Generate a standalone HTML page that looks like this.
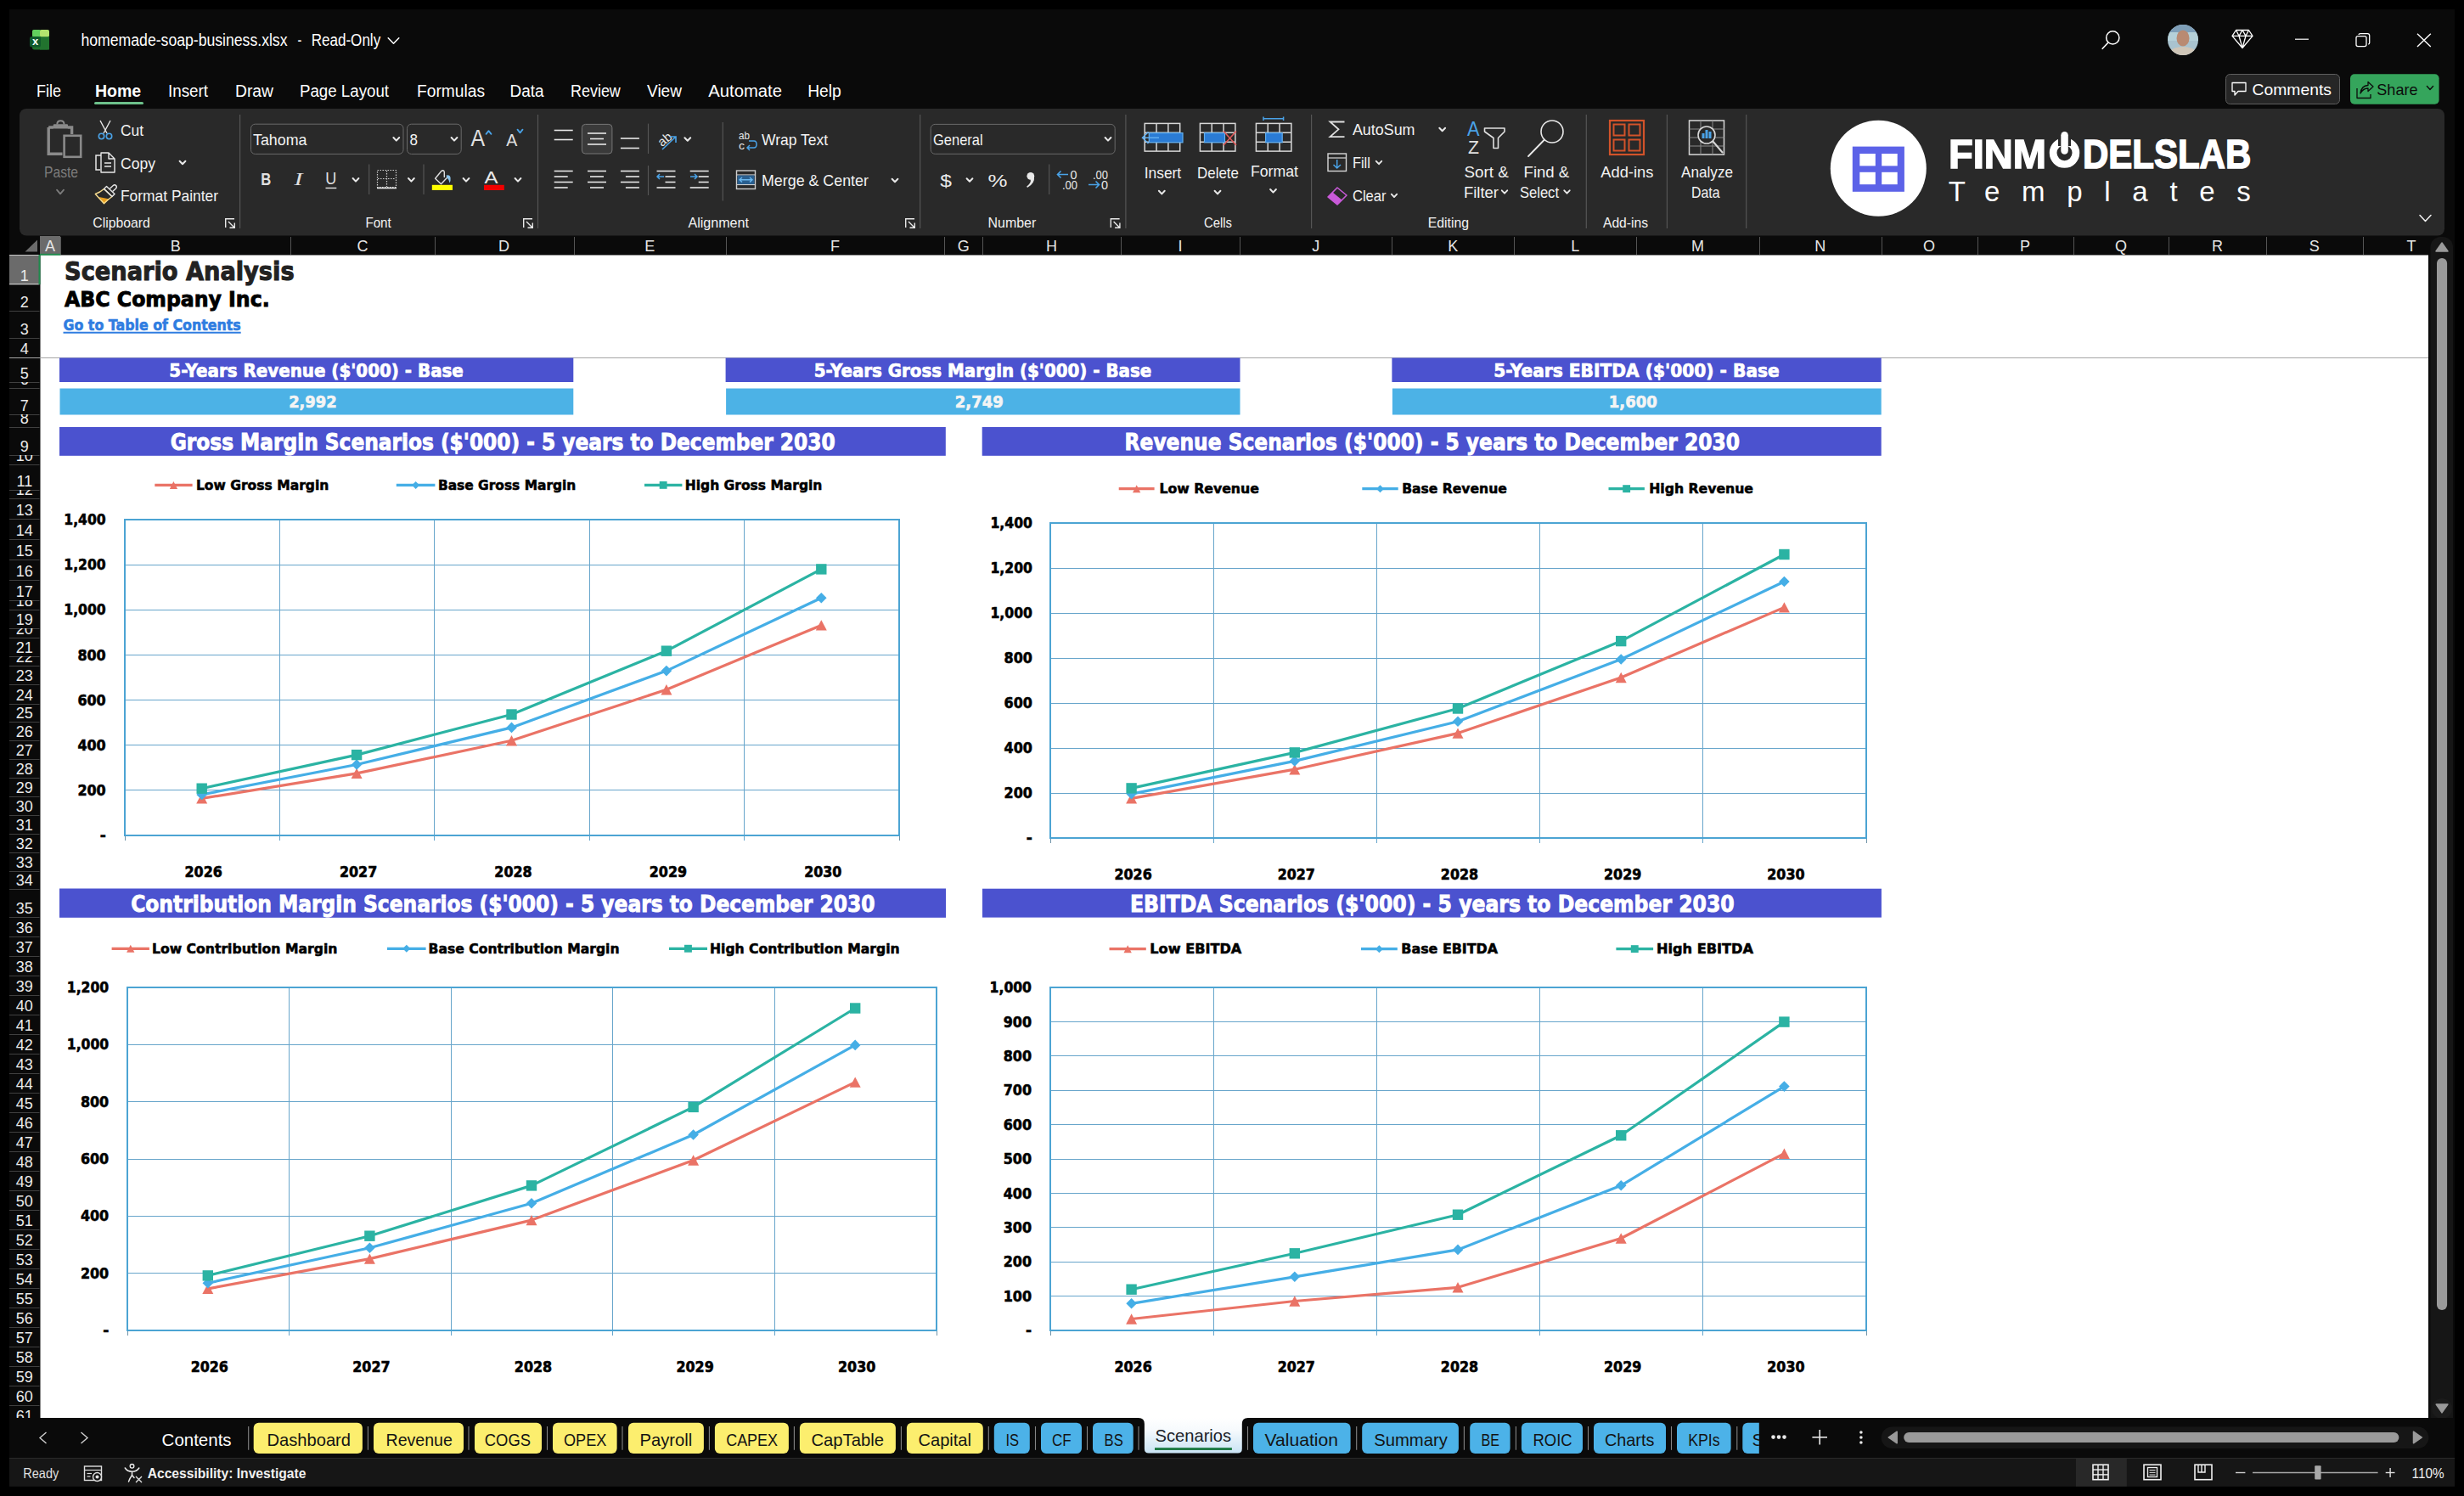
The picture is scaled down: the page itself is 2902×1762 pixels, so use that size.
<!DOCTYPE html>
<html><head><meta charset="utf-8"><title>homemade-soap-business.xlsx - Excel</title>
<style>
html,body{margin:0;padding:0;background:#000;overflow:hidden;width:2902px;height:1762px}
svg{display:block}
text{white-space:pre}
</style></head><body>
<svg width="2902" height="1762" viewBox="0 0 2902 1762" font-family="'Liberation Sans', Arial, sans-serif">
<rect x="0" y="0" width="2902" height="1762" fill="#000"/>
<rect x="11" y="11" width="2880" height="1740" fill="#0a0a0a"/>
<rect x="38" y="35" width="20" height="23.5" fill="#1f6f2c" rx="2.5"/>
<rect x="38" y="35" width="10" height="8.5" fill="#62cf5e" rx="2"/>
<rect x="47" y="35" width="11" height="8.5" fill="#b4e46e" rx="2"/>
<rect x="47" y="43.5" width="11" height="15" fill="#21732e"/>
<rect x="35" y="43" width="13" height="12.5" fill="#0f5a2c" rx="2.5"/>
<text x="41.6" y="52.6" font-size="13" fill="#f4fff6" font-weight="bold" text-anchor="middle">x</text>
<text x="95.5" y="54.0" font-size="20" fill="#fff" textLength="243.0" lengthAdjust="spacingAndGlyphs">homemade-soap-business.xlsx</text>
<text x="350.4" y="54.0" font-size="20" fill="#fff" textLength="4.8" lengthAdjust="spacingAndGlyphs">-</text>
<text x="366.7" y="54.0" font-size="20" fill="#fff" textLength="81.5" lengthAdjust="spacingAndGlyphs">Read-Only</text>
<path d="M457.2 44.7 L463.5 51.3 L469.8 44.7" fill="none" stroke="#fff" stroke-width="1.5" stroke-linecap="round" stroke-linejoin="round"/>
<circle cx="2488.3" cy="44.4" r="7.6" fill="none" stroke="#fff" stroke-width="1.5"/>
<line x1="2482.8" y1="50.2" x2="2476.2" y2="57.3" stroke="#fff" stroke-width="1.6" stroke-linecap="round"/>
<defs><radialGradient id="av" cx="50%" cy="45%" r="60%"><stop offset="0" stop-color="#c99a7c"/><stop offset="0.45" stop-color="#b48a72"/><stop offset="0.7" stop-color="#8fb4c6"/><stop offset="1" stop-color="#a9c8d8"/></radialGradient></defs>
<clipPath id="avc"><circle cx="2571" cy="47" r="18"/></clipPath>
<g clip-path="url(#avc)">
<rect x="2553" y="29" width="36" height="36" fill="#a9c3cf"/>
<rect x="2553" y="29" width="36" height="9" fill="#7f9fb8"/>
<rect x="2553" y="38" width="36" height="10" fill="#b5d0d8"/>
<ellipse cx="2571" cy="45" rx="7.5" ry="9.5" fill="#b98a72"/>
<path d="M2553 62 Q2560 55 2571 55 Q2582 55 2589 62 L2589 66 L2553 66 Z" fill="#cfc6b8"/>
</g>
<path d="M2633.5 35.5 L2648.5 35.5 L2653 42.3 L2641 56.5 L2629 42.3 Z M2629 42.3 L2653 42.3 M2637 42.3 L2641 56.5 L2645 42.3 M2633.5 35.5 L2637 42.3 L2641 35.5 L2645 42.3 L2648.5 35.5" fill="none" stroke="#fff" stroke-width="1.3" stroke-linejoin="round"/>
<line x1="2703" y1="46.2" x2="2719" y2="46.2" stroke="#fff" stroke-width="1.2" />
<rect x="2775" y="42.6" width="12" height="12" rx="2" fill="none" stroke="#fff" stroke-width="1.3"/>
<path d="M2778 41 Q2778 39.7 2780 39.7 L2788.5 39.7 Q2790.7 39.7 2790.7 42 L2790.7 50.5 Q2790.7 52 2789.2 52" fill="none" stroke="#fff" stroke-width="1.3"/>
<line x1="2847" y1="39.7" x2="2862.8" y2="55" stroke="#fff" stroke-width="1.4" />
<line x1="2862.8" y1="39.7" x2="2847" y2="55" stroke="#fff" stroke-width="1.4" />
<rect x="2621.5" y="87.5" width="134" height="35" rx="5" fill="#262626" stroke="#5e5e5e" stroke-width="1"/>
<path d="M2629 97.5 L2645 97.5 L2645 107.5 L2636 107.5 L2632 112 L2632 107.5 L2629 107.5 Z" fill="none" stroke="#fff" stroke-width="1.3" stroke-linejoin="round"/>
<text x="2652.6" y="112.2" font-size="19" fill="#fff" textLength="93.3" lengthAdjust="spacingAndGlyphs">Comments</text>
<rect x="2768" y="87.2" width="104.6" height="35.6" fill="#35a55c" rx="5"/>
<path d="M2776 104 L2776 115.5 L2792 115.5 L2792 111 M2780 110 Q2781 101 2789 100.5 L2789 96.5 L2795 102 L2789 107.5 L2789 104 Q2783 104 2780 110 Z" fill="none" stroke="#0c0c0c" stroke-width="1.3" stroke-linejoin="round"/>
<text x="2799.3" y="112.2" font-size="19" fill="#0c0c0c" textLength="48.2" lengthAdjust="spacingAndGlyphs">Share</text>
<path d="M2858.4 101.5 L2862.0 105.5 L2865.6 101.5" fill="none" stroke="#0c0c0c" stroke-width="1.4" stroke-linecap="round" stroke-linejoin="round"/>
<text x="43.0" y="114.0" font-size="19.5" fill="#fff" textLength="29.0" lengthAdjust="spacingAndGlyphs">File</text>
<text x="112.0" y="114.0" font-size="19.5" fill="#fff" font-weight="bold" textLength="54.2" lengthAdjust="spacingAndGlyphs">Home</text>
<text x="198.0" y="114.0" font-size="19.5" fill="#fff" textLength="47.0" lengthAdjust="spacingAndGlyphs">Insert</text>
<text x="277.0" y="114.0" font-size="19.5" fill="#fff" textLength="45.0" lengthAdjust="spacingAndGlyphs">Draw</text>
<text x="353.0" y="114.0" font-size="19.5" fill="#fff" textLength="105.0" lengthAdjust="spacingAndGlyphs">Page Layout</text>
<text x="491.0" y="114.0" font-size="19.5" fill="#fff" textLength="80.0" lengthAdjust="spacingAndGlyphs">Formulas</text>
<text x="600.5" y="114.0" font-size="19.5" fill="#fff" textLength="40.0" lengthAdjust="spacingAndGlyphs">Data</text>
<text x="672.0" y="114.0" font-size="19.5" fill="#fff" textLength="58.8" lengthAdjust="spacingAndGlyphs">Review</text>
<text x="762.0" y="114.0" font-size="19.5" fill="#fff" textLength="41.0" lengthAdjust="spacingAndGlyphs">View</text>
<text x="834.3" y="114.0" font-size="19.5" fill="#fff" textLength="86.6" lengthAdjust="spacingAndGlyphs">Automate</text>
<text x="951.2" y="114.0" font-size="19.5" fill="#fff" textLength="39.6" lengthAdjust="spacingAndGlyphs">Help</text>
<rect x="111" y="120" width="58" height="3" fill="#6cc08a" rx="1.5"/>
<rect x="23" y="128" width="2856" height="149.5" fill="#292929" rx="8"/>
<path d="M57.2 150 L57.2 181.2 L73.5 181.2 M57.2 150 L63 150 M79.5 150 L84.6 150 L84.6 158" fill="none" stroke="#8a8a8a" stroke-width="3.4"/>
<rect x="62.8" y="146.3" width="17.2" height="5.2" fill="#8a8a8a" rx="1"/>
<path d="M67.3 146.5 Q67.3 142.2 71.4 142.2 Q75.5 142.2 75.5 146.5" fill="none" stroke="#8a8a8a" stroke-width="2"/>
<rect x="75.6" y="159.8" width="19.6" height="25" fill="none" stroke="#8a8a8a" stroke-width="2.6"/>
<text x="52.0" y="209.3" font-size="19" fill="#7c7c7c" textLength="40.0" lengthAdjust="spacingAndGlyphs">Paste</text>
<path d="M67.0 223.6 L71.0 228.4 L75.0 223.6" fill="none" stroke="#7c7c7c" stroke-width="1.8" stroke-linecap="round" stroke-linejoin="round"/>
<path d="M118 142 L126 157 M130 142 L122 157" fill="none" stroke="#e8e8e8" stroke-width="1.4"/>
<circle cx="119.5" cy="160.5" r="3.2" fill="none" stroke="#4aa3e8" stroke-width="1.6"/>
<circle cx="128.5" cy="160.5" r="3.2" fill="none" stroke="#4aa3e8" stroke-width="1.6"/>
<text x="142.0" y="159.5" font-size="19" fill="#f2f2f2" textLength="27.0" lengthAdjust="spacingAndGlyphs">Cut</text>
<path d="M119 183 L113 183 L113 200 L118 200" fill="none" stroke="#e8e8e8" stroke-width="1.5"/>
<path d="M119 180 L128 180 L135 187 L135 203 L119 203 Z M128 180 L128 187 L135 187 M123 192 L131 192 M123 196 L131 196" fill="none" stroke="#e8e8e8" stroke-width="1.4" stroke-linejoin="round"/>
<text x="142.0" y="198.7" font-size="19" fill="#f2f2f2" textLength="41.0" lengthAdjust="spacingAndGlyphs">Copy</text>
<path d="M211.6 189.7 L215.0 193.3 L218.4 189.7" fill="none" stroke="#e8e8e8" stroke-width="2" stroke-linecap="round" stroke-linejoin="round"/>
<path d="M116.5 232 L129 234.5 Q126 237.5 122.5 239.8 Z" fill="#e9a020"/>
<path d="M112.3 228.5 Q118 226.5 122.5 222.5 L132 231.5 Q127 235 122.5 239.8 Z" fill="none" stroke="#f7dc8e" stroke-width="1.4" stroke-linejoin="round"/>
<path d="M122.5 222.5 L125.5 219.5 L135 228.5 L132 231.5 Z" fill="none" stroke="#e8e8e8" stroke-width="1.4" stroke-linejoin="round"/>
<path d="M129.3 222.2 L133.3 218.5 Q135 216.9 136.6 218.5 Q138.1 220.2 136.5 221.9 L132.6 225.6" fill="none" stroke="#e8e8e8" stroke-width="1.4" stroke-linejoin="round"/>
<text x="142.0" y="237.1" font-size="19" fill="#f2f2f2" textLength="115.0" lengthAdjust="spacingAndGlyphs">Format Painter</text>
<text x="109.3" y="267.6" font-size="15.7" fill="#f2f2f2" textLength="67.4" lengthAdjust="spacingAndGlyphs">Clipboard</text>
<path d="M265.7 268 L265.7 257.7 L276 257.7" fill="none" stroke="#e8e8e8" stroke-width="1.4"/>
<path d="M269 261 L276 268 M270.5 268.3 L276.3 268.3 L276.3 262.5" fill="none" stroke="#e8e8e8" stroke-width="1.4"/>
<line x1="282.6" y1="135" x2="282.6" y2="269" stroke="#555555" stroke-width="1.2" />
<rect x="295.5" y="146.2" width="179.5" height="35.2" rx="5" fill="#292929" stroke="#6a6a6a" stroke-width="1"/>
<text x="298.0" y="170.9" font-size="19" fill="#f2f2f2" textLength="63.4" lengthAdjust="spacingAndGlyphs">Tahoma</text>
<path d="M463.4 162.0 L466.8 165.6 L470.2 162.0" fill="none" stroke="#e8e8e8" stroke-width="2" stroke-linecap="round" stroke-linejoin="round"/>
<rect x="479.5" y="146.2" width="63.7" height="35.2" rx="5" fill="#292929" stroke="#6a6a6a" stroke-width="1"/>
<text x="482.5" y="170.9" font-size="19" fill="#f2f2f2" textLength="9.5" lengthAdjust="spacingAndGlyphs">8</text>
<path d="M531.6 162.0 L535.0 165.6 L538.4 162.0" fill="none" stroke="#e8e8e8" stroke-width="2" stroke-linecap="round" stroke-linejoin="round"/>
<text x="554.4" y="171.8" font-size="27" fill="#e0e0e0" textLength="16.6" lengthAdjust="spacingAndGlyphs" font-weight="300">A</text>
<path d="M572.5 157.9 L575.5 154.1 L578.5 157.9" fill="none" stroke="#4aa3e8" stroke-width="1.8" stroke-linecap="round" stroke-linejoin="round"/>
<text x="596.2" y="171.8" font-size="21" fill="#e0e0e0" textLength="13.0" lengthAdjust="spacingAndGlyphs">A</text>
<path d="M609.5 152.6 L612.5 156.4 L615.5 152.6" fill="none" stroke="#4aa3e8" stroke-width="1.8" stroke-linecap="round" stroke-linejoin="round"/>
<text x="307.2" y="218.0" font-size="21" fill="#e0e0e0" font-weight="bold" textLength="12.0" lengthAdjust="spacingAndGlyphs">B</text>
<text x="346.5" y="218.0" font-size="21" fill="#e0e0e0" textLength="10.0" lengthAdjust="spacingAndGlyphs" font-style="italic" font-family="Liberation Serif">I</text>
<text x="383.3" y="217.2" font-size="20.5" fill="#e0e0e0" textLength="13.0" lengthAdjust="spacingAndGlyphs">U</text>
<line x1="383.5" y1="221.5" x2="396.3" y2="221.5" stroke="#e8e8e8" stroke-width="1.4" />
<path d="M415.6 210.0 L419.0 213.6 L422.4 210.0" fill="none" stroke="#e8e8e8" stroke-width="2" stroke-linecap="round" stroke-linejoin="round"/>
<line x1="434.7" y1="193.6" x2="434.7" y2="229" stroke="#555555" stroke-width="1.2" />
<rect x="444.5" y="200.5" width="22" height="20" fill="none" stroke="#cfcfcf" stroke-width="1.2" stroke-dasharray="1.5 1.5"/>
<line x1="455.5" y1="201" x2="455.5" y2="220" stroke="#cfcfcf" stroke-width="1.2" stroke-dasharray="1.5 1.5"/>
<line x1="445" y1="210.5" x2="466" y2="210.5" stroke="#cfcfcf" stroke-width="1.2" stroke-dasharray="1.5 1.5"/>
<line x1="444" y1="221.5" x2="467" y2="221.5" stroke="#e8e8e8" stroke-width="1.6" />
<path d="M481.0 210.0 L484.4 213.6 L487.8 210.0" fill="none" stroke="#e8e8e8" stroke-width="2" stroke-linecap="round" stroke-linejoin="round"/>
<line x1="499" y1="193.6" x2="499" y2="229" stroke="#555555" stroke-width="1.2" />
<path d="M523.3 208.4 L523.3 202.5 Q523.1 200.7 521.3 200.7 Q520.2 200.9 519.6 201.8 L512.6 210.3 L519.5 216.8 L526.3 209.6" fill="none" stroke="#e0e0e0" stroke-width="1.4" stroke-linejoin="round" stroke-linecap="round"/>
<path d="M525.3 206.7 Q529.8 205.2 530.6 209.6 Q531 212.8 529.5 215.6 Q528.9 211.5 526.6 209.2 Z" fill="#8cc6ee"/>
<rect x="508.8" y="217.8" width="24.2" height="6.2" fill="#ffff00"/>
<path d="M545.6 210.0 L549.0 213.6 L552.4 210.0" fill="none" stroke="#e8e8e8" stroke-width="2" stroke-linecap="round" stroke-linejoin="round"/>
<text x="570.5" y="215.5" font-size="21" fill="#e8e8e8" textLength="16.0" lengthAdjust="spacingAndGlyphs">A</text>
<rect x="570" y="217.8" width="23.8" height="6.2" fill="#f00000"/>
<path d="M606.6 210.0 L610.0 213.6 L613.4 210.0" fill="none" stroke="#e8e8e8" stroke-width="2" stroke-linecap="round" stroke-linejoin="round"/>
<text x="430.4" y="267.6" font-size="15.7" fill="#f2f2f2" textLength="30.4" lengthAdjust="spacingAndGlyphs">Font</text>
<path d="M616.7 268 L616.7 257.7 L627 257.7" fill="none" stroke="#e8e8e8" stroke-width="1.4"/>
<path d="M620 261 L627 268 M621.5 268.3 L627.3 268.3 L627.3 262.5" fill="none" stroke="#e8e8e8" stroke-width="1.4"/>
<line x1="633.5" y1="135" x2="633.5" y2="269" stroke="#555555" stroke-width="1.2" />
<line x1="652.7" y1="153.5" x2="674.7" y2="153.5" stroke="#e8e8e8" stroke-width="1.6" />
<line x1="652.7" y1="164.5" x2="674.7" y2="164.5" stroke="#e8e8e8" stroke-width="1.6" />
<rect x="685.4" y="146.4" width="35.5" height="34.6" rx="4" fill="#3a3a3a" stroke="#777" stroke-width="1"/>
<line x1="692" y1="157.0" x2="714" y2="157.0" stroke="#e8e8e8" stroke-width="1.6" />
<line x1="695" y1="163.5" x2="711" y2="163.5" stroke="#e8e8e8" stroke-width="1.6" />
<line x1="692" y1="170.0" x2="714" y2="170.0" stroke="#e8e8e8" stroke-width="1.6" />
<line x1="730.9" y1="163.0" x2="752.9" y2="163.0" stroke="#e8e8e8" stroke-width="1.6" />
<line x1="730.9" y1="174.5" x2="752.9" y2="174.5" stroke="#e8e8e8" stroke-width="1.6" />
<line x1="763.5" y1="145.6" x2="763.5" y2="181" stroke="#555555" stroke-width="1.2" />
<text x="775.0" y="170.0" font-size="15" fill="#e8e8e8" transform="rotate(-40 782 165)">ab</text>
<path d="M780 176 L796 161 M789 161 L796 161 L796 168" fill="none" stroke="#4aa3e8" stroke-width="1.6"/>
<path d="M806.4 162.2 L809.8 165.8 L813.2 162.2" fill="none" stroke="#e8e8e8" stroke-width="2" stroke-linecap="round" stroke-linejoin="round"/>
<line x1="652.7" y1="201.5" x2="674.7" y2="201.5" stroke="#e8e8e8" stroke-width="1.6" />
<line x1="652.7" y1="208.0" x2="668.7" y2="208.0" stroke="#e8e8e8" stroke-width="1.6" />
<line x1="652.7" y1="214.5" x2="674.7" y2="214.5" stroke="#e8e8e8" stroke-width="1.6" />
<line x1="652.7" y1="221.0" x2="668.7" y2="221.0" stroke="#e8e8e8" stroke-width="1.6" />
<line x1="692" y1="201.5" x2="714" y2="201.5" stroke="#e8e8e8" stroke-width="1.6" />
<line x1="695" y1="208.0" x2="711" y2="208.0" stroke="#e8e8e8" stroke-width="1.6" />
<line x1="692" y1="214.5" x2="714" y2="214.5" stroke="#e8e8e8" stroke-width="1.6" />
<line x1="695" y1="221.0" x2="711" y2="221.0" stroke="#e8e8e8" stroke-width="1.6" />
<line x1="730.9" y1="201.5" x2="752.9" y2="201.5" stroke="#e8e8e8" stroke-width="1.6" />
<line x1="736.9" y1="208.0" x2="752.9" y2="208.0" stroke="#e8e8e8" stroke-width="1.6" />
<line x1="730.9" y1="214.5" x2="752.9" y2="214.5" stroke="#e8e8e8" stroke-width="1.6" />
<line x1="736.9" y1="221.0" x2="752.9" y2="221.0" stroke="#e8e8e8" stroke-width="1.6" />
<line x1="763.5" y1="195" x2="763.5" y2="230" stroke="#555555" stroke-width="1.2" />
<line x1="773.5" y1="201.5" x2="795.5" y2="201.5" stroke="#e8e8e8" stroke-width="1.6" />
<line x1="783.5" y1="208.0" x2="795.5" y2="208.0" stroke="#e8e8e8" stroke-width="1.6" />
<line x1="783.5" y1="214.5" x2="795.5" y2="214.5" stroke="#e8e8e8" stroke-width="1.6" />
<line x1="773.5" y1="221.0" x2="795.5" y2="221.0" stroke="#e8e8e8" stroke-width="1.6" />
<path d="M774 208 L782 208 M777 205 L774 208 L777 211" fill="none" stroke="#4aa3e8" stroke-width="1.5"/>
<line x1="812.7" y1="201.5" x2="834.7" y2="201.5" stroke="#e8e8e8" stroke-width="1.6" />
<line x1="822.7" y1="208.0" x2="834.7" y2="208.0" stroke="#e8e8e8" stroke-width="1.6" />
<line x1="822.7" y1="214.5" x2="834.7" y2="214.5" stroke="#e8e8e8" stroke-width="1.6" />
<line x1="812.7" y1="221.0" x2="834.7" y2="221.0" stroke="#e8e8e8" stroke-width="1.6" />
<path d="M813 208 L821 208 M818 205 L821 208 L818 211" fill="none" stroke="#4aa3e8" stroke-width="1.5"/>
<line x1="851.3" y1="144" x2="851.3" y2="236.5" stroke="#555555" stroke-width="1.2" />
<text x="870.0" y="164.0" font-size="13.5" fill="#e8e8e8" textLength="13.0" lengthAdjust="spacingAndGlyphs">ab</text>
<text x="870.0" y="176.0" font-size="13.5" fill="#e8e8e8" textLength="7.0" lengthAdjust="spacingAndGlyphs">c</text>
<path d="M880 174 L888 174 Q891 174 891 170 Q891 166 888 166 L882 166 M883 171 L880 174 L883 177" fill="none" stroke="#4aa3e8" stroke-width="1.5"/>
<text x="897.0" y="170.6" font-size="19" fill="#f2f2f2" textLength="78.2" lengthAdjust="spacingAndGlyphs">Wrap Text</text>
<rect x="867.5" y="201" width="22" height="21.5" fill="none" stroke="#cfcfcf" stroke-width="1.4"/>
<line x1="867.5" y1="206" x2="889.5" y2="206" stroke="#cfcfcf" stroke-width="1.2" />
<line x1="867.5" y1="217.5" x2="889.5" y2="217.5" stroke="#cfcfcf" stroke-width="1.2" />
<rect x="868.5" y="206.5" width="20" height="10.5" fill="#2a5f8f"/>
<path d="M871 211.8 L886 211.8 M874 209 L871 211.8 L874 214.6 M883 209 L886 211.8 L883 214.6" fill="none" stroke="#6ab8f0" stroke-width="1.4"/>
<text x="897.0" y="218.9" font-size="19" fill="#f2f2f2" textLength="125.9" lengthAdjust="spacingAndGlyphs">Merge &amp; Center</text>
<path d="M1050.6 210.7 L1054.0 214.3 L1057.4 210.7" fill="none" stroke="#e8e8e8" stroke-width="2" stroke-linecap="round" stroke-linejoin="round"/>
<text x="810.4" y="267.6" font-size="15.7" fill="#f2f2f2" textLength="71.6" lengthAdjust="spacingAndGlyphs">Alignment</text>
<path d="M1066.7 268 L1066.7 257.7 L1077 257.7" fill="none" stroke="#e8e8e8" stroke-width="1.4"/>
<path d="M1070 261 L1077 268 M1071.5 268.3 L1077.3 268.3 L1077.3 262.5" fill="none" stroke="#e8e8e8" stroke-width="1.4"/>
<line x1="1083.7" y1="135" x2="1083.7" y2="269" stroke="#555555" stroke-width="1.2" />
<rect x="1096.2" y="146.4" width="217" height="34.9" rx="5" fill="#292929" stroke="#6a6a6a" stroke-width="1"/>
<text x="1099.0" y="170.6" font-size="19" fill="#f2f2f2" textLength="58.6" lengthAdjust="spacingAndGlyphs">General</text>
<path d="M1301.6 162.0 L1305.0 165.6 L1308.4 162.0" fill="none" stroke="#e8e8e8" stroke-width="2" stroke-linecap="round" stroke-linejoin="round"/>
<text x="1107.3" y="220.0" font-size="21" fill="#e8e8e8" textLength="13.7" lengthAdjust="spacingAndGlyphs">$</text>
<path d="M1138.6 210.2 L1142.0 213.8 L1145.4 210.2" fill="none" stroke="#e8e8e8" stroke-width="2" stroke-linecap="round" stroke-linejoin="round"/>
<text x="1163.5" y="220.0" font-size="21" fill="#e8e8e8" textLength="23.0" lengthAdjust="spacingAndGlyphs">%</text>
<circle cx="1213.8" cy="207.3" r="4.4" fill="#e8e8e8"/>
<path d="M1218 208 Q1219 216 1210 221 L1209.2 219.6 Q1214.5 215.5 1213.8 211.5 Z" fill="#e8e8e8"/>
<line x1="1235.7" y1="193.6" x2="1235.7" y2="229" stroke="#555555" stroke-width="1.2" />
<text x="1260.5" y="211.0" font-size="14.5" fill="#e8e8e8" textLength="8.0" lengthAdjust="spacingAndGlyphs">0</text>
<text x="1251.0" y="223.0" font-size="14.5" fill="#e8e8e8" textLength="18.0" lengthAdjust="spacingAndGlyphs">.00</text>
<path d="M1245.5 205.5 L1258 205.5 M1249.5 201.5 L1245.5 205.5 L1249.5 209.5" fill="none" stroke="#4aa3e8" stroke-width="1.6"/>
<text x="1287.0" y="211.0" font-size="14.5" fill="#e8e8e8" textLength="18.0" lengthAdjust="spacingAndGlyphs">.00</text>
<text x="1297.0" y="223.0" font-size="14.5" fill="#e8e8e8" textLength="8.0" lengthAdjust="spacingAndGlyphs">0</text>
<path d="M1282 217.5 L1294.5 217.5 M1290.5 213.5 L1294.5 217.5 L1290.5 221.5" fill="none" stroke="#4aa3e8" stroke-width="1.6"/>
<text x="1163.5" y="267.6" font-size="15.7" fill="#f2f2f2" textLength="56.8" lengthAdjust="spacingAndGlyphs">Number</text>
<path d="M1308.3 268 L1308.3 257.7 L1318.6 257.7" fill="none" stroke="#e8e8e8" stroke-width="1.4"/>
<path d="M1311.6 261 L1318.6 268 M1313.1 268.3 L1318.8999999999999 268.3 L1318.8999999999999 262.5" fill="none" stroke="#e8e8e8" stroke-width="1.4"/>
<line x1="1325.9" y1="135" x2="1325.9" y2="269" stroke="#555555" stroke-width="1.2" />
<rect x="1348.2" y="145.4" width="41.5" height="32.7" fill="none" stroke="#d8d8d8" stroke-width="1.5"/>
<line x1="1362.0333333333333" y1="145.4" x2="1362.0333333333333" y2="178.10000000000002" stroke="#d8d8d8" stroke-width="1.5" />
<line x1="1348.2" y1="156.3" x2="1389.7" y2="156.3" stroke="#d8d8d8" stroke-width="1.5" />
<line x1="1375.8666666666668" y1="145.4" x2="1375.8666666666668" y2="178.10000000000002" stroke="#d8d8d8" stroke-width="1.5" />
<line x1="1348.2" y1="167.20000000000002" x2="1389.7" y2="167.20000000000002" stroke="#d8d8d8" stroke-width="1.5" />
<rect x="1353.3" y="156.6" width="39.7" height="11.2" fill="#2a7bd4" stroke="#62b0f0" stroke-width="1.2"/>
<path d="M1365 162.2 L1346 162.2 M1352.5 155.5 L1345.5 162.2 L1352.5 169" fill="none" stroke="#62b0f0" stroke-width="1.5"/>
<text x="1347.7" y="209.8" font-size="18.5" fill="#f2f2f2" textLength="43.5" lengthAdjust="spacingAndGlyphs">Insert</text>
<path d="M1364.9 224.8 L1368.3 228.4 L1371.7 224.8" fill="none" stroke="#e8e8e8" stroke-width="2" stroke-linecap="round" stroke-linejoin="round"/>
<rect x="1413.4" y="145.4" width="41.5" height="32.7" fill="none" stroke="#d8d8d8" stroke-width="1.5"/>
<line x1="1427.2333333333333" y1="145.4" x2="1427.2333333333333" y2="178.10000000000002" stroke="#d8d8d8" stroke-width="1.5" />
<line x1="1413.4" y1="156.3" x2="1454.9" y2="156.3" stroke="#d8d8d8" stroke-width="1.5" />
<line x1="1441.0666666666668" y1="145.4" x2="1441.0666666666668" y2="178.10000000000002" stroke="#d8d8d8" stroke-width="1.5" />
<line x1="1413.4" y1="167.20000000000002" x2="1454.9" y2="167.20000000000002" stroke="#d8d8d8" stroke-width="1.5" />
<rect x="1418.5" y="156.6" width="24" height="11.2" fill="#2a7bd4" stroke="#62b0f0" stroke-width="1.2"/>
<path d="M1441 154.5 L1456 171 M1456 154.5 L1441 171" fill="none" stroke="#e05a5a" stroke-width="1.6"/>
<text x="1410.1" y="209.8" font-size="18.5" fill="#f2f2f2" textLength="48.8" lengthAdjust="spacingAndGlyphs">Delete</text>
<path d="M1430.6 224.8 L1434.0 228.4 L1437.4 224.8" fill="none" stroke="#e8e8e8" stroke-width="2" stroke-linecap="round" stroke-linejoin="round"/>
<rect x="1479.4" y="145.4" width="41.5" height="32.7" fill="none" stroke="#d8d8d8" stroke-width="1.5"/>
<line x1="1493.2333333333333" y1="145.4" x2="1493.2333333333333" y2="178.10000000000002" stroke="#d8d8d8" stroke-width="1.5" />
<line x1="1479.4" y1="156.3" x2="1520.9" y2="156.3" stroke="#d8d8d8" stroke-width="1.5" />
<line x1="1507.0666666666668" y1="145.4" x2="1507.0666666666668" y2="178.10000000000002" stroke="#d8d8d8" stroke-width="1.5" />
<line x1="1479.4" y1="167.20000000000002" x2="1520.9" y2="167.20000000000002" stroke="#d8d8d8" stroke-width="1.5" />
<rect x="1490.6" y="156.6" width="19.6" height="11.2" fill="#2a7bd4" stroke="#62b0f0" stroke-width="1.2"/>
<path d="M1488 139.8 L1511.6 139.8 M1488 137.5 L1488 142 M1511.6 137.5 L1511.6 142" fill="none" stroke="#4aa3e8" stroke-width="1.5"/>
<text x="1472.9" y="207.7" font-size="18.5" fill="#f2f2f2" textLength="56.0" lengthAdjust="spacingAndGlyphs">Format</text>
<path d="M1496.1 223.0 L1499.5 226.6 L1502.9 223.0" fill="none" stroke="#e8e8e8" stroke-width="2" stroke-linecap="round" stroke-linejoin="round"/>
<text x="1418.0" y="267.6" font-size="15.7" fill="#f2f2f2" textLength="33.0" lengthAdjust="spacingAndGlyphs">Cells</text>
<line x1="1544.6" y1="135" x2="1544.6" y2="269" stroke="#555555" stroke-width="1.2" />
<path d="M1583.5 143.5 L1566.5 143.5 L1576.5 152.3 L1566.5 161.2 L1583.5 161.2" fill="none" stroke="#e0e0e0" stroke-width="1.8" stroke-linejoin="miter"/>
<text x="1592.9" y="159.3" font-size="19" fill="#f2f2f2" textLength="73.6" lengthAdjust="spacingAndGlyphs">AutoSum</text>
<path d="M1695.3 150.7 L1698.7 154.3 L1702.1 150.7" fill="none" stroke="#e8e8e8" stroke-width="2" stroke-linecap="round" stroke-linejoin="round"/>
<rect x="1564" y="181" width="21.5" height="20.5" fill="none" stroke="#d8d8d8" stroke-width="1.4"/>
<line x1="1564" y1="186" x2="1585.5" y2="186" stroke="#d8d8d8" stroke-width="1.2" />
<path d="M1574.7 188 L1574.7 198 M1570.5 194 L1574.7 198 L1579 194" fill="none" stroke="#4aa3e8" stroke-width="1.5"/>
<text x="1592.9" y="198.2" font-size="19" fill="#f2f2f2" textLength="21.0" lengthAdjust="spacingAndGlyphs">Fill</text>
<path d="M1620.8 189.8 L1624.0 193.2 L1627.2 189.8" fill="none" stroke="#e8e8e8" stroke-width="1.9" stroke-linecap="round" stroke-linejoin="round"/>
<path d="M1564 232 L1575 221 L1586 230 L1575 241 Z" fill="none" stroke="#c85ad8" stroke-width="1.6" stroke-linejoin="round"/>
<path d="M1564 232 L1569.5 226.5 L1580.5 235.5 L1575 241 Z" fill="#c85ad8"/>
<text x="1592.9" y="237.1" font-size="19" fill="#f2f2f2" textLength="39.7" lengthAdjust="spacingAndGlyphs">Clear</text>
<path d="M1638.8 228.7 L1642.0 232.1 L1645.2 228.7" fill="none" stroke="#e8e8e8" stroke-width="1.9" stroke-linecap="round" stroke-linejoin="round"/>
<text x="1728.0" y="160.0" font-size="24" fill="#4aa3e8" textLength="14.5" lengthAdjust="spacingAndGlyphs" font-weight="300">A</text>
<text x="1729.0" y="181.0" font-size="22" fill="#e0e0e0" textLength="13.0" lengthAdjust="spacingAndGlyphs">Z</text>
<path d="M1748.5 151 L1772 151 L1772 155 L1764.5 162.5 L1764.5 174.5 L1759 174.5 L1759 162.5 L1748.5 155 Z" fill="none" stroke="#e0e0e0" stroke-width="1.6" stroke-linejoin="round"/>
<text x="1724.5" y="208.5" font-size="18.5" fill="#f2f2f2" textLength="52.3" lengthAdjust="spacingAndGlyphs">Sort &amp;</text>
<text x="1724.0" y="232.5" font-size="18.5" fill="#f2f2f2" textLength="41.0" lengthAdjust="spacingAndGlyphs">Filter</text>
<path d="M1768.8 224.3 L1772.0 227.7 L1775.2 224.3" fill="none" stroke="#e8e8e8" stroke-width="1.9" stroke-linecap="round" stroke-linejoin="round"/>
<circle cx="1828" cy="155" r="13" fill="none" stroke="#e8e8e8" stroke-width="1.6"/>
<line x1="1819" y1="164.5" x2="1800" y2="184" stroke="#e8e8e8" stroke-width="1.8" stroke-linecap="round"/>
<text x="1794.6" y="208.5" font-size="18.5" fill="#f2f2f2" textLength="53.6" lengthAdjust="spacingAndGlyphs">Find &amp;</text>
<text x="1790.0" y="232.5" font-size="18.5" fill="#f2f2f2" textLength="46.0" lengthAdjust="spacingAndGlyphs">Select</text>
<path d="M1842.3 224.3 L1845.5 227.7 L1848.7 224.3" fill="none" stroke="#e8e8e8" stroke-width="1.9" stroke-linecap="round" stroke-linejoin="round"/>
<text x="1681.7" y="267.6" font-size="15.7" fill="#f2f2f2" textLength="48.3" lengthAdjust="spacingAndGlyphs">Editing</text>
<line x1="1868.3" y1="135" x2="1868.3" y2="269" stroke="#555555" stroke-width="1.2" />
<rect x="1896" y="142" width="40" height="40" fill="none" stroke="#d2532a" stroke-width="2.2"/>
<rect x="1900.5" y="146.5" width="13" height="13" fill="none" stroke="#d2532a" stroke-width="2"/>
<rect x="1918.5" y="146.5" width="13" height="13" fill="none" stroke="#d2532a" stroke-width="2"/>
<rect x="1900.5" y="164.5" width="13" height="13" fill="none" stroke="#d2532a" stroke-width="2"/>
<rect x="1918.5" y="164.5" width="13" height="13" fill="none" stroke="#d2532a" stroke-width="2"/>
<text x="1885.3" y="208.5" font-size="18.5" fill="#f2f2f2" textLength="62.0" lengthAdjust="spacingAndGlyphs">Add-ins</text>
<text x="1888.0" y="267.6" font-size="15.7" fill="#f2f2f2" textLength="53.0" lengthAdjust="spacingAndGlyphs">Add-ins</text>
<line x1="1963.4" y1="135" x2="1963.4" y2="269" stroke="#555555" stroke-width="1.2" />
<rect x="1989.5" y="142" width="41" height="40" fill="none" stroke="#d8d8d8" stroke-width="1.5"/>
<line x1="1989.5" y1="152" x2="2030.5" y2="152" stroke="#8a8a8a" stroke-width="1" />
<line x1="1989.5" y1="162" x2="2030.5" y2="162" stroke="#8a8a8a" stroke-width="1" />
<line x1="1989.5" y1="172" x2="2030.5" y2="172" stroke="#8a8a8a" stroke-width="1" />
<line x1="2003" y1="142" x2="2003" y2="182" stroke="#8a8a8a" stroke-width="1" />
<line x1="2017" y1="142" x2="2017" y2="182" stroke="#8a8a8a" stroke-width="1" />
<circle cx="2010" cy="159" r="10" fill="#292929" stroke="#d8d8d8" stroke-width="1.6"/>
<rect x="2004.5" y="157" width="3" height="6" fill="#4aa3e8"/>
<rect x="2008.5" y="153" width="3" height="10" fill="#4aa3e8"/>
<rect x="2012.5" y="155" width="3" height="8" fill="#4aa3e8"/>
<line x1="2017" y1="166" x2="2029" y2="180" stroke="#d8d8d8" stroke-width="2" />
<text x="1980.0" y="208.5" font-size="18.5" fill="#f2f2f2" textLength="61.0" lengthAdjust="spacingAndGlyphs">Analyze</text>
<text x="1992.0" y="232.5" font-size="18.5" fill="#f2f2f2" textLength="33.5" lengthAdjust="spacingAndGlyphs">Data</text>
<line x1="2056.7" y1="135" x2="2056.7" y2="269" stroke="#555555" stroke-width="1.2" />
<circle cx="2212.3" cy="198.3" r="56.5" fill="#ffffff"/>
<rect x="2181.8" y="172.6" width="61.1" height="53.2" fill="#5c62e8"/>
<rect x="2190.3" y="181" width="18.5" height="14.4" fill="#ffffff"/>
<rect x="2216.2" y="181" width="18.5" height="14.4" fill="#ffffff"/>
<rect x="2190.3" y="202.8" width="18.5" height="14.4" fill="#ffffff"/>
<rect x="2216.2" y="202.8" width="18.5" height="14.4" fill="#ffffff"/>
<text x="2295.0" y="197.8" font-size="49" fill="#ffffff" font-weight="bold" textLength="114.9" lengthAdjust="spacingAndGlyphs" stroke="#ffffff" stroke-width="1.6">FINM</text>
<text x="2452.9" y="197.8" font-size="49" fill="#ffffff" font-weight="bold" textLength="198.4" lengthAdjust="spacingAndGlyphs" stroke="#ffffff" stroke-width="1.6">DELSLAB</text>
<circle cx="2431.5" cy="180.1" r="13.4" fill="none" stroke="#ffffff" stroke-width="8.7"/>
<rect x="2424" y="158" width="15" height="14" fill="#292929"/>
<rect x="2427.3" y="155" width="8.5" height="26.8" fill="#ffffff" rx="4.25"/>
<text x="2294.8" y="236.9" font-size="33" fill="#ffffff" textLength="356.0" lengthAdjust="spacing">Templates</text>
<path d="M2850.0 253.5 L2856.5 260.5 L2863.0 253.5" fill="none" stroke="#f0f0f0" stroke-width="1.5" stroke-linecap="round" stroke-linejoin="round"/>
<rect x="47.5" y="300" width="2812.5" height="1370" fill="#ffffff"/>
<rect x="11" y="278" width="2849" height="22" fill="#0a0a0a"/>
<clipPath id="colclip"><rect x="11" y="278" width="2849" height="22"/></clipPath>
<g clip-path="url(#colclip)">
<rect x="47" y="278" width="24" height="22" fill="#6b6b6b"/>
<line x1="71.5" y1="279" x2="71.5" y2="300" stroke="#555555" stroke-width="1" />
<text x="59.0" y="296.0" font-size="18" fill="#e6e6e6" text-anchor="middle">A</text>
<line x1="342.5" y1="279" x2="342.5" y2="300" stroke="#555555" stroke-width="1" />
<text x="206.8" y="296.0" font-size="18" fill="#e6e6e6" text-anchor="middle">B</text>
<line x1="512.5" y1="279" x2="512.5" y2="300" stroke="#555555" stroke-width="1" />
<text x="427.0" y="296.0" font-size="18" fill="#e6e6e6" text-anchor="middle">C</text>
<line x1="676.5" y1="279" x2="676.5" y2="300" stroke="#555555" stroke-width="1" />
<text x="593.6" y="296.0" font-size="18" fill="#e6e6e6" text-anchor="middle">D</text>
<line x1="855.5" y1="279" x2="855.5" y2="300" stroke="#555555" stroke-width="1" />
<text x="765.2" y="296.0" font-size="18" fill="#e6e6e6" text-anchor="middle">E</text>
<line x1="1112.5" y1="279" x2="1112.5" y2="300" stroke="#555555" stroke-width="1" />
<text x="983.5" y="296.0" font-size="18" fill="#e6e6e6" text-anchor="middle">F</text>
<line x1="1157.5" y1="279" x2="1157.5" y2="300" stroke="#555555" stroke-width="1" />
<text x="1134.8" y="296.0" font-size="18" fill="#e6e6e6" text-anchor="middle">G</text>
<line x1="1320.5" y1="279" x2="1320.5" y2="300" stroke="#555555" stroke-width="1" />
<text x="1238.6" y="296.0" font-size="18" fill="#e6e6e6" text-anchor="middle">H</text>
<line x1="1460.5" y1="279" x2="1460.5" y2="300" stroke="#555555" stroke-width="1" />
<text x="1390.0" y="296.0" font-size="18" fill="#e6e6e6" text-anchor="middle">I</text>
<line x1="1639.5" y1="279" x2="1639.5" y2="300" stroke="#555555" stroke-width="1" />
<text x="1549.7" y="296.0" font-size="18" fill="#e6e6e6" text-anchor="middle">J</text>
<line x1="1783.5" y1="279" x2="1783.5" y2="300" stroke="#555555" stroke-width="1" />
<text x="1711.2" y="296.0" font-size="18" fill="#e6e6e6" text-anchor="middle">K</text>
<line x1="1927.5" y1="279" x2="1927.5" y2="300" stroke="#555555" stroke-width="1" />
<text x="1855.2" y="296.0" font-size="18" fill="#e6e6e6" text-anchor="middle">L</text>
<line x1="2072.5" y1="279" x2="2072.5" y2="300" stroke="#555555" stroke-width="1" />
<text x="1999.6" y="296.0" font-size="18" fill="#e6e6e6" text-anchor="middle">M</text>
<line x1="2216.5" y1="279" x2="2216.5" y2="300" stroke="#555555" stroke-width="1" />
<text x="2143.7" y="296.0" font-size="18" fill="#e6e6e6" text-anchor="middle">N</text>
<line x1="2329.5" y1="279" x2="2329.5" y2="300" stroke="#555555" stroke-width="1" />
<text x="2272.1" y="296.0" font-size="18" fill="#e6e6e6" text-anchor="middle">O</text>
<line x1="2442.5" y1="279" x2="2442.5" y2="300" stroke="#555555" stroke-width="1" />
<text x="2385.1" y="296.0" font-size="18" fill="#e6e6e6" text-anchor="middle">P</text>
<line x1="2554.5" y1="279" x2="2554.5" y2="300" stroke="#555555" stroke-width="1" />
<text x="2497.9" y="296.0" font-size="18" fill="#e6e6e6" text-anchor="middle">Q</text>
<line x1="2669.5" y1="279" x2="2669.5" y2="300" stroke="#555555" stroke-width="1" />
<text x="2611.4" y="296.0" font-size="18" fill="#e6e6e6" text-anchor="middle">R</text>
<line x1="2783.5" y1="279" x2="2783.5" y2="300" stroke="#555555" stroke-width="1" />
<text x="2725.8" y="296.0" font-size="18" fill="#e6e6e6" text-anchor="middle">S</text>
<line x1="2897.5" y1="279" x2="2897.5" y2="300" stroke="#555555" stroke-width="1" />
<text x="2840.0" y="296.0" font-size="18" fill="#e6e6e6" text-anchor="middle">T</text>
</g>
<line x1="71" y1="300.5" x2="2860" y2="300.5" stroke="#8c8c8c" stroke-width="1" />
<line x1="47" y1="299.8" x2="71" y2="299.8" stroke="#1f8a4c" stroke-width="2" />
<path d="M29.5 296.6 L44 296.6 L44 282.5 Z" fill="#6b6b6b"/>
<rect x="11" y="300" width="35.5" height="1370" fill="#0a0a0a"/>
<rect x="11" y="300" width="35.5" height="35" fill="#6b6b6b"/>
<svg x="11" y="300" width="35.5" height="35" overflow="hidden">
<text x="17.8" y="30.5" font-size="18" fill="#ebebeb" text-anchor="middle">1</text>
</svg>
<line x1="11" y1="335.5" x2="46.5" y2="335.5" stroke="#404040" stroke-width="1" />
<svg x="11" y="335" width="35.5" height="31" overflow="hidden">
<text x="17.8" y="26.5" font-size="18" fill="#ebebeb" text-anchor="middle">2</text>
</svg>
<line x1="11" y1="366.5" x2="46.5" y2="366.5" stroke="#404040" stroke-width="1" />
<svg x="11" y="366" width="35.5" height="32" overflow="hidden">
<text x="17.8" y="27.5" font-size="18" fill="#ebebeb" text-anchor="middle">3</text>
</svg>
<line x1="11" y1="398.5" x2="46.5" y2="398.5" stroke="#404040" stroke-width="1" />
<svg x="11" y="398" width="35.5" height="23" overflow="hidden">
<text x="17.8" y="18.5" font-size="18" fill="#ebebeb" text-anchor="middle">4</text>
</svg>
<line x1="11" y1="421.5" x2="46.5" y2="421.5" stroke="#404040" stroke-width="1" />
<svg x="11" y="421" width="35.5" height="29" overflow="hidden">
<text x="17.8" y="24.5" font-size="18" fill="#ebebeb" text-anchor="middle">5</text>
</svg>
<line x1="11" y1="450.5" x2="46.5" y2="450.5" stroke="#404040" stroke-width="1" />
<svg x="11" y="450" width="35.5" height="7" overflow="hidden">
<text x="17.8" y="2.5" font-size="18" fill="#ebebeb" text-anchor="middle">6</text>
</svg>
<line x1="11" y1="457.5" x2="46.5" y2="457.5" stroke="#404040" stroke-width="1" />
<svg x="11" y="457" width="35.5" height="31" overflow="hidden">
<text x="17.8" y="26.5" font-size="18" fill="#ebebeb" text-anchor="middle">7</text>
</svg>
<line x1="11" y1="488.5" x2="46.5" y2="488.5" stroke="#404040" stroke-width="1" />
<svg x="11" y="488" width="35.5" height="15" overflow="hidden">
<text x="17.8" y="10.5" font-size="18" fill="#ebebeb" text-anchor="middle">8</text>
</svg>
<line x1="11" y1="503.5" x2="46.5" y2="503.5" stroke="#404040" stroke-width="1" />
<svg x="11" y="503" width="35.5" height="33" overflow="hidden">
<text x="17.8" y="28.5" font-size="18" fill="#ebebeb" text-anchor="middle">9</text>
</svg>
<line x1="11" y1="536.5" x2="46.5" y2="536.5" stroke="#404040" stroke-width="1" />
<svg x="11" y="536" width="35.5" height="11" overflow="hidden">
<text x="17.8" y="6.5" font-size="18" fill="#ebebeb" text-anchor="middle">10</text>
</svg>
<line x1="11" y1="547.5" x2="46.5" y2="547.5" stroke="#404040" stroke-width="1" />
<svg x="11" y="547" width="35.5" height="30" overflow="hidden">
<text x="17.8" y="25.5" font-size="18" fill="#ebebeb" text-anchor="middle">11</text>
</svg>
<line x1="11" y1="577.5" x2="46.5" y2="577.5" stroke="#404040" stroke-width="1" />
<svg x="11" y="577" width="35.5" height="10" overflow="hidden">
<text x="17.8" y="5.5" font-size="18" fill="#ebebeb" text-anchor="middle">12</text>
</svg>
<line x1="11" y1="587.5" x2="46.5" y2="587.5" stroke="#404040" stroke-width="1" />
<svg x="11" y="587" width="35.5" height="24" overflow="hidden">
<text x="17.8" y="19.5" font-size="18" fill="#ebebeb" text-anchor="middle">13</text>
</svg>
<line x1="11" y1="611.5" x2="46.5" y2="611.5" stroke="#404040" stroke-width="1" />
<svg x="11" y="611" width="35.5" height="24" overflow="hidden">
<text x="17.8" y="19.5" font-size="18" fill="#ebebeb" text-anchor="middle">14</text>
</svg>
<line x1="11" y1="635.5" x2="46.5" y2="635.5" stroke="#404040" stroke-width="1" />
<svg x="11" y="635" width="35.5" height="24" overflow="hidden">
<text x="17.8" y="19.5" font-size="18" fill="#ebebeb" text-anchor="middle">15</text>
</svg>
<line x1="11" y1="659.5" x2="46.5" y2="659.5" stroke="#404040" stroke-width="1" />
<svg x="11" y="659" width="35.5" height="24" overflow="hidden">
<text x="17.8" y="19.5" font-size="18" fill="#ebebeb" text-anchor="middle">16</text>
</svg>
<line x1="11" y1="683.5" x2="46.5" y2="683.5" stroke="#404040" stroke-width="1" />
<svg x="11" y="683" width="35.5" height="24" overflow="hidden">
<text x="17.8" y="19.5" font-size="18" fill="#ebebeb" text-anchor="middle">17</text>
</svg>
<line x1="11" y1="707.5" x2="46.5" y2="707.5" stroke="#404040" stroke-width="1" />
<svg x="11" y="707" width="35.5" height="11" overflow="hidden">
<text x="17.8" y="6.5" font-size="18" fill="#ebebeb" text-anchor="middle">18</text>
</svg>
<line x1="11" y1="718.5" x2="46.5" y2="718.5" stroke="#404040" stroke-width="1" />
<svg x="11" y="718" width="35.5" height="22" overflow="hidden">
<text x="17.8" y="17.5" font-size="18" fill="#ebebeb" text-anchor="middle">19</text>
</svg>
<line x1="11" y1="740.5" x2="46.5" y2="740.5" stroke="#404040" stroke-width="1" />
<svg x="11" y="740" width="35.5" height="11" overflow="hidden">
<text x="17.8" y="6.5" font-size="18" fill="#ebebeb" text-anchor="middle">20</text>
</svg>
<line x1="11" y1="751.5" x2="46.5" y2="751.5" stroke="#404040" stroke-width="1" />
<svg x="11" y="751" width="35.5" height="22" overflow="hidden">
<text x="17.8" y="17.5" font-size="18" fill="#ebebeb" text-anchor="middle">21</text>
</svg>
<line x1="11" y1="773.5" x2="46.5" y2="773.5" stroke="#404040" stroke-width="1" />
<svg x="11" y="773" width="35.5" height="11" overflow="hidden">
<text x="17.8" y="6.5" font-size="18" fill="#ebebeb" text-anchor="middle">22</text>
</svg>
<line x1="11" y1="784.5" x2="46.5" y2="784.5" stroke="#404040" stroke-width="1" />
<svg x="11" y="784" width="35.5" height="22" overflow="hidden">
<text x="17.8" y="17.5" font-size="18" fill="#ebebeb" text-anchor="middle">23</text>
</svg>
<line x1="11" y1="806.5" x2="46.5" y2="806.5" stroke="#404040" stroke-width="1" />
<svg x="11" y="806" width="35.5" height="23" overflow="hidden">
<text x="17.8" y="18.5" font-size="18" fill="#ebebeb" text-anchor="middle">24</text>
</svg>
<line x1="11" y1="829.5" x2="46.5" y2="829.5" stroke="#404040" stroke-width="1" />
<svg x="11" y="829" width="35.5" height="21" overflow="hidden">
<text x="17.8" y="16.5" font-size="18" fill="#ebebeb" text-anchor="middle">25</text>
</svg>
<line x1="11" y1="850.5" x2="46.5" y2="850.5" stroke="#404040" stroke-width="1" />
<svg x="11" y="850" width="35.5" height="22" overflow="hidden">
<text x="17.8" y="17.5" font-size="18" fill="#ebebeb" text-anchor="middle">26</text>
</svg>
<line x1="11" y1="872.5" x2="46.5" y2="872.5" stroke="#404040" stroke-width="1" />
<svg x="11" y="872" width="35.5" height="22" overflow="hidden">
<text x="17.8" y="17.5" font-size="18" fill="#ebebeb" text-anchor="middle">27</text>
</svg>
<line x1="11" y1="894.5" x2="46.5" y2="894.5" stroke="#404040" stroke-width="1" />
<svg x="11" y="894" width="35.5" height="22" overflow="hidden">
<text x="17.8" y="17.5" font-size="18" fill="#ebebeb" text-anchor="middle">28</text>
</svg>
<line x1="11" y1="916.5" x2="46.5" y2="916.5" stroke="#404040" stroke-width="1" />
<svg x="11" y="916" width="35.5" height="22" overflow="hidden">
<text x="17.8" y="17.5" font-size="18" fill="#ebebeb" text-anchor="middle">29</text>
</svg>
<line x1="11" y1="938.5" x2="46.5" y2="938.5" stroke="#404040" stroke-width="1" />
<svg x="11" y="938" width="35.5" height="22" overflow="hidden">
<text x="17.8" y="17.5" font-size="18" fill="#ebebeb" text-anchor="middle">30</text>
</svg>
<line x1="11" y1="960.5" x2="46.5" y2="960.5" stroke="#404040" stroke-width="1" />
<svg x="11" y="960" width="35.5" height="22" overflow="hidden">
<text x="17.8" y="17.5" font-size="18" fill="#ebebeb" text-anchor="middle">31</text>
</svg>
<line x1="11" y1="982.5" x2="46.5" y2="982.5" stroke="#404040" stroke-width="1" />
<svg x="11" y="982" width="35.5" height="22" overflow="hidden">
<text x="17.8" y="17.5" font-size="18" fill="#ebebeb" text-anchor="middle">32</text>
</svg>
<line x1="11" y1="1004.5" x2="46.5" y2="1004.5" stroke="#404040" stroke-width="1" />
<svg x="11" y="1004" width="35.5" height="22" overflow="hidden">
<text x="17.8" y="17.5" font-size="18" fill="#ebebeb" text-anchor="middle">33</text>
</svg>
<line x1="11" y1="1026.5" x2="46.5" y2="1026.5" stroke="#404040" stroke-width="1" />
<svg x="11" y="1026" width="35.5" height="21" overflow="hidden">
<text x="17.8" y="16.5" font-size="18" fill="#ebebeb" text-anchor="middle">34</text>
</svg>
<line x1="11" y1="1047.5" x2="46.5" y2="1047.5" stroke="#404040" stroke-width="1" />
<svg x="11" y="1047" width="35.5" height="33" overflow="hidden">
<text x="17.8" y="28.5" font-size="18" fill="#ebebeb" text-anchor="middle">35</text>
</svg>
<line x1="11" y1="1080.5" x2="46.5" y2="1080.5" stroke="#404040" stroke-width="1" />
<svg x="11" y="1080" width="35.5" height="23" overflow="hidden">
<text x="17.8" y="18.5" font-size="18" fill="#ebebeb" text-anchor="middle">36</text>
</svg>
<line x1="11" y1="1103.5" x2="46.5" y2="1103.5" stroke="#404040" stroke-width="1" />
<svg x="11" y="1103" width="35.5" height="23" overflow="hidden">
<text x="17.8" y="18.5" font-size="18" fill="#ebebeb" text-anchor="middle">37</text>
</svg>
<line x1="11" y1="1126.5" x2="46.5" y2="1126.5" stroke="#404040" stroke-width="1" />
<svg x="11" y="1126" width="35.5" height="23" overflow="hidden">
<text x="17.8" y="18.5" font-size="18" fill="#ebebeb" text-anchor="middle">38</text>
</svg>
<line x1="11" y1="1149.5" x2="46.5" y2="1149.5" stroke="#404040" stroke-width="1" />
<svg x="11" y="1149" width="35.5" height="23" overflow="hidden">
<text x="17.8" y="18.5" font-size="18" fill="#ebebeb" text-anchor="middle">39</text>
</svg>
<line x1="11" y1="1172.5" x2="46.5" y2="1172.5" stroke="#404040" stroke-width="1" />
<svg x="11" y="1172" width="35.5" height="23" overflow="hidden">
<text x="17.8" y="18.5" font-size="18" fill="#ebebeb" text-anchor="middle">40</text>
</svg>
<line x1="11" y1="1195.5" x2="46.5" y2="1195.5" stroke="#404040" stroke-width="1" />
<svg x="11" y="1195" width="35.5" height="23" overflow="hidden">
<text x="17.8" y="18.5" font-size="18" fill="#ebebeb" text-anchor="middle">41</text>
</svg>
<line x1="11" y1="1218.5" x2="46.5" y2="1218.5" stroke="#404040" stroke-width="1" />
<svg x="11" y="1218" width="35.5" height="23" overflow="hidden">
<text x="17.8" y="18.5" font-size="18" fill="#ebebeb" text-anchor="middle">42</text>
</svg>
<line x1="11" y1="1241.5" x2="46.5" y2="1241.5" stroke="#404040" stroke-width="1" />
<svg x="11" y="1241" width="35.5" height="23" overflow="hidden">
<text x="17.8" y="18.5" font-size="18" fill="#ebebeb" text-anchor="middle">43</text>
</svg>
<line x1="11" y1="1264.5" x2="46.5" y2="1264.5" stroke="#404040" stroke-width="1" />
<svg x="11" y="1264" width="35.5" height="23" overflow="hidden">
<text x="17.8" y="18.5" font-size="18" fill="#ebebeb" text-anchor="middle">44</text>
</svg>
<line x1="11" y1="1287.5" x2="46.5" y2="1287.5" stroke="#404040" stroke-width="1" />
<svg x="11" y="1287" width="35.5" height="23" overflow="hidden">
<text x="17.8" y="18.5" font-size="18" fill="#ebebeb" text-anchor="middle">45</text>
</svg>
<line x1="11" y1="1310.5" x2="46.5" y2="1310.5" stroke="#404040" stroke-width="1" />
<svg x="11" y="1310" width="35.5" height="23" overflow="hidden">
<text x="17.8" y="18.5" font-size="18" fill="#ebebeb" text-anchor="middle">46</text>
</svg>
<line x1="11" y1="1333.5" x2="46.5" y2="1333.5" stroke="#404040" stroke-width="1" />
<svg x="11" y="1333" width="35.5" height="23" overflow="hidden">
<text x="17.8" y="18.5" font-size="18" fill="#ebebeb" text-anchor="middle">47</text>
</svg>
<line x1="11" y1="1356.5" x2="46.5" y2="1356.5" stroke="#404040" stroke-width="1" />
<svg x="11" y="1356" width="35.5" height="23" overflow="hidden">
<text x="17.8" y="18.5" font-size="18" fill="#ebebeb" text-anchor="middle">48</text>
</svg>
<line x1="11" y1="1379.5" x2="46.5" y2="1379.5" stroke="#404040" stroke-width="1" />
<svg x="11" y="1379" width="35.5" height="23" overflow="hidden">
<text x="17.8" y="18.5" font-size="18" fill="#ebebeb" text-anchor="middle">49</text>
</svg>
<line x1="11" y1="1402.5" x2="46.5" y2="1402.5" stroke="#404040" stroke-width="1" />
<svg x="11" y="1402" width="35.5" height="23" overflow="hidden">
<text x="17.8" y="18.5" font-size="18" fill="#ebebeb" text-anchor="middle">50</text>
</svg>
<line x1="11" y1="1425.5" x2="46.5" y2="1425.5" stroke="#404040" stroke-width="1" />
<svg x="11" y="1425" width="35.5" height="23" overflow="hidden">
<text x="17.8" y="18.5" font-size="18" fill="#ebebeb" text-anchor="middle">51</text>
</svg>
<line x1="11" y1="1448.5" x2="46.5" y2="1448.5" stroke="#404040" stroke-width="1" />
<svg x="11" y="1448" width="35.5" height="23" overflow="hidden">
<text x="17.8" y="18.5" font-size="18" fill="#ebebeb" text-anchor="middle">52</text>
</svg>
<line x1="11" y1="1471.5" x2="46.5" y2="1471.5" stroke="#404040" stroke-width="1" />
<svg x="11" y="1471" width="35.5" height="23" overflow="hidden">
<text x="17.8" y="18.5" font-size="18" fill="#ebebeb" text-anchor="middle">53</text>
</svg>
<line x1="11" y1="1494.5" x2="46.5" y2="1494.5" stroke="#404040" stroke-width="1" />
<svg x="11" y="1494" width="35.5" height="23" overflow="hidden">
<text x="17.8" y="18.5" font-size="18" fill="#ebebeb" text-anchor="middle">54</text>
</svg>
<line x1="11" y1="1517.5" x2="46.5" y2="1517.5" stroke="#404040" stroke-width="1" />
<svg x="11" y="1517" width="35.5" height="23" overflow="hidden">
<text x="17.8" y="18.5" font-size="18" fill="#ebebeb" text-anchor="middle">55</text>
</svg>
<line x1="11" y1="1540.5" x2="46.5" y2="1540.5" stroke="#404040" stroke-width="1" />
<svg x="11" y="1540" width="35.5" height="23" overflow="hidden">
<text x="17.8" y="18.5" font-size="18" fill="#ebebeb" text-anchor="middle">56</text>
</svg>
<line x1="11" y1="1563.5" x2="46.5" y2="1563.5" stroke="#404040" stroke-width="1" />
<svg x="11" y="1563" width="35.5" height="23" overflow="hidden">
<text x="17.8" y="18.5" font-size="18" fill="#ebebeb" text-anchor="middle">57</text>
</svg>
<line x1="11" y1="1586.5" x2="46.5" y2="1586.5" stroke="#404040" stroke-width="1" />
<svg x="11" y="1586" width="35.5" height="23" overflow="hidden">
<text x="17.8" y="18.5" font-size="18" fill="#ebebeb" text-anchor="middle">58</text>
</svg>
<line x1="11" y1="1609.5" x2="46.5" y2="1609.5" stroke="#404040" stroke-width="1" />
<svg x="11" y="1609" width="35.5" height="23" overflow="hidden">
<text x="17.8" y="18.5" font-size="18" fill="#ebebeb" text-anchor="middle">59</text>
</svg>
<line x1="11" y1="1632.5" x2="46.5" y2="1632.5" stroke="#404040" stroke-width="1" />
<svg x="11" y="1632" width="35.5" height="23" overflow="hidden">
<text x="17.8" y="18.5" font-size="18" fill="#ebebeb" text-anchor="middle">60</text>
</svg>
<line x1="11" y1="1655.5" x2="46.5" y2="1655.5" stroke="#404040" stroke-width="1" />
<svg x="11" y="1655" width="35.5" height="15" overflow="hidden">
<text x="17.8" y="18.5" font-size="18" fill="#ebebeb" text-anchor="middle">61</text>
</svg>
<line x1="11" y1="300.5" x2="46.5" y2="300.5" stroke="#c8c8c8" stroke-width="1" />
<line x1="11" y1="334.5" x2="46.5" y2="334.5" stroke="#c8c8c8" stroke-width="1" />
<line x1="46.5" y1="300" x2="46.5" y2="335" stroke="#1f8a4c" stroke-width="2" />
<line x1="11" y1="421.5" x2="2860" y2="421.5" stroke="#a6a6a6" stroke-width="1" />
<text x="76.1" y="330.3" font-size="30.5" fill="#222222" font-family="'DejaVu Sans', Verdana, sans-serif" font-weight="bold" textLength="270.5" lengthAdjust="spacingAndGlyphs" stroke="#222222" stroke-width="1.07">Scenario Analysis</text>
<text x="76.1" y="360.7" font-size="25.6" fill="#000000" font-family="'DejaVu Sans', Verdana, sans-serif" font-weight="bold" textLength="241.5" lengthAdjust="spacingAndGlyphs" stroke="#000000" stroke-width="0.90">ABC Company Inc.</text>
<text x="74.5" y="388.7" font-size="17.5" fill="#2f7de1" font-family="'DejaVu Sans', Verdana, sans-serif" font-weight="bold" textLength="209.2" lengthAdjust="spacingAndGlyphs" stroke="#2f7de1" stroke-width="0.61">Go to Table of Contents</text>
<line x1="74.5" y1="391.7" x2="283.7" y2="391.7" stroke="#2f7de1" stroke-width="2" />
<rect x="70" y="421.5" width="605.3" height="28.5" fill="#4b52cf"/>
<rect x="70.5" y="457.5" width="604.8" height="31" fill="#4cb2e6"/>
<text x="372.6" y="443.5" font-size="20.8" fill="#ffffff" font-family="'DejaVu Sans', Verdana, sans-serif" font-weight="bold" text-anchor="middle" textLength="346.5" lengthAdjust="spacingAndGlyphs" stroke="#ffffff" stroke-width="0.73">5-Years Revenue ($'000) - Base</text>
<text x="368.4" y="480.0" font-size="19.5" fill="#f4f4f4" font-family="'DejaVu Sans', Verdana, sans-serif" font-weight="bold" text-anchor="middle" textLength="56.5" lengthAdjust="spacingAndGlyphs" stroke="#f4f4f4" stroke-width="0.68">2,992</text>
<rect x="854.6" y="421.5" width="605.9" height="28.5" fill="#4b52cf"/>
<rect x="855.1" y="457.5" width="605.4" height="31" fill="#4cb2e6"/>
<text x="1157.5" y="443.5" font-size="20.8" fill="#ffffff" font-family="'DejaVu Sans', Verdana, sans-serif" font-weight="bold" text-anchor="middle" textLength="397.5" lengthAdjust="spacingAndGlyphs" stroke="#ffffff" stroke-width="0.73">5-Years Gross Margin ($'000) - Base</text>
<text x="1153.3" y="480.0" font-size="19.5" fill="#f4f4f4" font-family="'DejaVu Sans', Verdana, sans-serif" font-weight="bold" text-anchor="middle" textLength="57.0" lengthAdjust="spacingAndGlyphs" stroke="#f4f4f4" stroke-width="0.68">2,749</text>
<rect x="1639.4" y="421.5" width="576.2999999999997" height="28.5" fill="#4b52cf"/>
<rect x="1639.9" y="457.5" width="575.7999999999997" height="31" fill="#4cb2e6"/>
<text x="1927.5" y="443.5" font-size="20.8" fill="#ffffff" font-family="'DejaVu Sans', Verdana, sans-serif" font-weight="bold" text-anchor="middle" textLength="336.5" lengthAdjust="spacingAndGlyphs" stroke="#ffffff" stroke-width="0.73">5-Years EBITDA ($'000) - Base</text>
<text x="1923.3" y="480.0" font-size="19.5" fill="#f4f4f4" font-family="'DejaVu Sans', Verdana, sans-serif" font-weight="bold" text-anchor="middle" textLength="57.0" lengthAdjust="spacingAndGlyphs" stroke="#f4f4f4" stroke-width="0.68">1,600</text>
<rect x="70" y="503" width="1043.8" height="33.8" fill="#4b52cf"/>
<text x="200.7" y="530.0" font-size="26" fill="#ffffff" font-family="'DejaVu Sans', Verdana, sans-serif" font-weight="bold" textLength="782.9" lengthAdjust="spacingAndGlyphs" stroke="#ffffff" stroke-width="0.91">Gross Margin Scenarios ($'000) - 5 years to December 2030</text>
<line x1="182.3" y1="571.4" x2="226.6" y2="571.4" stroke="#ea7366" stroke-width="3.2" />
<path d="M204.4 566.9 L209.1 575.9 L199.8 575.9 Z" fill="#ea7366"/>
<text x="230.9" y="577.1" font-size="16.6" fill="#000" font-family="'DejaVu Sans', Verdana, sans-serif" font-weight="bold" textLength="156.4" lengthAdjust="spacingAndGlyphs" stroke="#000" stroke-width="0.58">Low Gross Margin</text>
<line x1="466.8" y1="571.4" x2="512.4" y2="571.4" stroke="#45aee6" stroke-width="3.2" />
<path d="M489.6 566.9 L494.1 571.4 L489.6 575.9 L485.1 571.4 Z" fill="#45aee6"/>
<text x="515.9" y="577.1" font-size="16.6" fill="#000" font-family="'DejaVu Sans', Verdana, sans-serif" font-weight="bold" textLength="162.4" lengthAdjust="spacingAndGlyphs" stroke="#000" stroke-width="0.58">Base Gross Margin</text>
<line x1="759" y1="571.4" x2="803.4" y2="571.4" stroke="#2bb3a3" stroke-width="3.2" />
<rect x="776.7" y="566.9" width="8.9" height="8.9" fill="#2bb3a3"/>
<text x="806.8" y="577.1" font-size="16.6" fill="#000" font-family="'DejaVu Sans', Verdana, sans-serif" font-weight="bold" textLength="161.6" lengthAdjust="spacingAndGlyphs" stroke="#000" stroke-width="0.58">High Gross Margin</text>
<line x1="147" y1="930.5" x2="1059" y2="930.5" stroke="#67a5cb" stroke-width="1" />
<line x1="147" y1="877.5" x2="1059" y2="877.5" stroke="#67a5cb" stroke-width="1" />
<line x1="147" y1="824.5" x2="1059" y2="824.5" stroke="#67a5cb" stroke-width="1" />
<line x1="147" y1="771.5" x2="1059" y2="771.5" stroke="#67a5cb" stroke-width="1" />
<line x1="147" y1="718.5" x2="1059" y2="718.5" stroke="#67a5cb" stroke-width="1" />
<line x1="147" y1="665.5" x2="1059" y2="665.5" stroke="#67a5cb" stroke-width="1" />
<line x1="329.5" y1="612" x2="329.5" y2="990" stroke="#67a5cb" stroke-width="1" />
<line x1="511.5" y1="612" x2="511.5" y2="990" stroke="#67a5cb" stroke-width="1" />
<line x1="694.5" y1="612" x2="694.5" y2="990" stroke="#67a5cb" stroke-width="1" />
<line x1="876.5" y1="612" x2="876.5" y2="990" stroke="#67a5cb" stroke-width="1" />
<line x1="147.5" y1="984" x2="147.5" y2="990" stroke="#6f93a8" stroke-width="1" />
<line x1="1059.5" y1="984" x2="1059.5" y2="990" stroke="#6f93a8" stroke-width="1" />
<rect x="147" y="612" width="912" height="372" fill="none" stroke="#4ca4d3" stroke-width="2"/>
<text x="124.7" y="990.1" font-size="17" fill="#000" font-family="'DejaVu Sans', Verdana, sans-serif" font-weight="bold" text-anchor="end" stroke="#000" stroke-width="0.60">-</text>
<text x="124.7" y="937.0" font-size="17" fill="#000" font-family="'DejaVu Sans', Verdana, sans-serif" font-weight="bold" text-anchor="end" textLength="33.3" lengthAdjust="spacingAndGlyphs" stroke="#000" stroke-width="0.60">200</text>
<text x="124.7" y="883.8" font-size="17" fill="#000" font-family="'DejaVu Sans', Verdana, sans-serif" font-weight="bold" text-anchor="end" textLength="33.3" lengthAdjust="spacingAndGlyphs" stroke="#000" stroke-width="0.60">400</text>
<text x="124.7" y="830.7" font-size="17" fill="#000" font-family="'DejaVu Sans', Verdana, sans-serif" font-weight="bold" text-anchor="end" textLength="33.3" lengthAdjust="spacingAndGlyphs" stroke="#000" stroke-width="0.60">600</text>
<text x="124.7" y="777.5" font-size="17" fill="#000" font-family="'DejaVu Sans', Verdana, sans-serif" font-weight="bold" text-anchor="end" textLength="33.3" lengthAdjust="spacingAndGlyphs" stroke="#000" stroke-width="0.60">800</text>
<text x="124.7" y="724.4" font-size="17" fill="#000" font-family="'DejaVu Sans', Verdana, sans-serif" font-weight="bold" text-anchor="end" textLength="49.4" lengthAdjust="spacingAndGlyphs" stroke="#000" stroke-width="0.60">1,000</text>
<text x="124.7" y="671.2" font-size="17" fill="#000" font-family="'DejaVu Sans', Verdana, sans-serif" font-weight="bold" text-anchor="end" textLength="49.4" lengthAdjust="spacingAndGlyphs" stroke="#000" stroke-width="0.60">1,200</text>
<text x="124.7" y="618.1" font-size="17" fill="#000" font-family="'DejaVu Sans', Verdana, sans-serif" font-weight="bold" text-anchor="end" textLength="49.4" lengthAdjust="spacingAndGlyphs" stroke="#000" stroke-width="0.60">1,400</text>
<text x="239.7" y="1033.0" font-size="17" fill="#000" font-family="'DejaVu Sans', Verdana, sans-serif" font-weight="bold" text-anchor="middle" textLength="44.3" lengthAdjust="spacingAndGlyphs" stroke="#000" stroke-width="0.60">2026</text>
<text x="422.1" y="1033.0" font-size="17" fill="#000" font-family="'DejaVu Sans', Verdana, sans-serif" font-weight="bold" text-anchor="middle" textLength="44.3" lengthAdjust="spacingAndGlyphs" stroke="#000" stroke-width="0.60">2027</text>
<text x="604.5" y="1033.0" font-size="17" fill="#000" font-family="'DejaVu Sans', Verdana, sans-serif" font-weight="bold" text-anchor="middle" textLength="44.3" lengthAdjust="spacingAndGlyphs" stroke="#000" stroke-width="0.60">2028</text>
<text x="786.9" y="1033.0" font-size="17" fill="#000" font-family="'DejaVu Sans', Verdana, sans-serif" font-weight="bold" text-anchor="middle" textLength="44.3" lengthAdjust="spacingAndGlyphs" stroke="#000" stroke-width="0.60">2029</text>
<text x="969.3" y="1033.0" font-size="17" fill="#000" font-family="'DejaVu Sans', Verdana, sans-serif" font-weight="bold" text-anchor="middle" textLength="44.3" lengthAdjust="spacingAndGlyphs" stroke="#000" stroke-width="0.60">2030</text>
<path d="M237.7 940.4 L420.1 910.9 L602.5 872.3 L784.9 812.2 L967.3 736.4" fill="none" stroke="#ea7366" stroke-width="3.2" stroke-linejoin="round"/>
<path d="M237.7 935.9 L420.1 900.5 L602.5 856.9 L784.9 790.1 L967.3 704.2" fill="none" stroke="#45aee6" stroke-width="3.2" stroke-linejoin="round"/>
<path d="M237.7 928.7 L420.1 889.1 L602.5 841.5 L784.9 766.7 L967.3 670.4" fill="none" stroke="#2bb3a3" stroke-width="3.2" stroke-linejoin="round"/>
<path d="M237.7 934.2 L244.2 946.6 L231.2 946.6 Z" fill="#ea7366"/>
<path d="M420.1 904.7 L426.6 917.1 L413.6 917.1 Z" fill="#ea7366"/>
<path d="M602.5 866.1 L609.0 878.5 L596.0 878.5 Z" fill="#ea7366"/>
<path d="M784.9 806.0 L791.4 818.4 L778.4 818.4 Z" fill="#ea7366"/>
<path d="M967.3 730.2 L973.8 742.6 L960.8 742.6 Z" fill="#ea7366"/>
<path d="M237.7 929.6 L244.0 935.9 L237.7 942.2 L231.4 935.9 Z" fill="#45aee6"/>
<path d="M420.1 894.2 L426.4 900.5 L420.1 906.8 L413.8 900.5 Z" fill="#45aee6"/>
<path d="M602.5 850.6 L608.8 856.9 L602.5 863.2 L596.2 856.9 Z" fill="#45aee6"/>
<path d="M784.9 783.8 L791.2 790.1 L784.9 796.4 L778.6 790.1 Z" fill="#45aee6"/>
<path d="M967.3 697.9 L973.6 704.2 L967.3 710.5 L961.0 704.2 Z" fill="#45aee6"/>
<rect x="231.5" y="922.5" width="12.4" height="12.4" fill="#2bb3a3"/>
<rect x="413.9" y="882.9" width="12.4" height="12.4" fill="#2bb3a3"/>
<rect x="596.3" y="835.3" width="12.4" height="12.4" fill="#2bb3a3"/>
<rect x="778.7" y="760.5" width="12.4" height="12.4" fill="#2bb3a3"/>
<rect x="961.1" y="664.2" width="12.4" height="12.4" fill="#2bb3a3"/>
<rect x="1156.7" y="503" width="1059.0" height="33.8" fill="#4b52cf"/>
<text x="1324.6" y="530.0" font-size="26" fill="#ffffff" font-family="'DejaVu Sans', Verdana, sans-serif" font-weight="bold" textLength="724.3" lengthAdjust="spacingAndGlyphs" stroke="#ffffff" stroke-width="0.91">Revenue Scenarios ($'000) - 5 years to December 2030</text>
<line x1="1317.7" y1="575.7" x2="1359.6" y2="575.7" stroke="#ea7366" stroke-width="3.2" />
<path d="M1338.7 571.2 L1343.3 580.2 L1334.0 580.2 Z" fill="#ea7366"/>
<text x="1365.4" y="581.4" font-size="16.6" fill="#000" font-family="'DejaVu Sans', Verdana, sans-serif" font-weight="bold" textLength="117.5" lengthAdjust="spacingAndGlyphs" stroke="#000" stroke-width="0.58">Low Revenue</text>
<line x1="1604.3" y1="575.7" x2="1646.7" y2="575.7" stroke="#45aee6" stroke-width="3.2" />
<path d="M1625.5 571.2 L1630.0 575.7 L1625.5 580.2 L1621.0 575.7 Z" fill="#45aee6"/>
<text x="1651.2" y="581.4" font-size="16.6" fill="#000" font-family="'DejaVu Sans', Verdana, sans-serif" font-weight="bold" textLength="123.6" lengthAdjust="spacingAndGlyphs" stroke="#000" stroke-width="0.58">Base Revenue</text>
<line x1="1894.5" y1="575.7" x2="1936.9" y2="575.7" stroke="#2bb3a3" stroke-width="3.2" />
<rect x="1911.2" y="571.2" width="8.9" height="8.9" fill="#2bb3a3"/>
<text x="1942.2" y="581.4" font-size="16.6" fill="#000" font-family="'DejaVu Sans', Verdana, sans-serif" font-weight="bold" textLength="122.8" lengthAdjust="spacingAndGlyphs" stroke="#000" stroke-width="0.58">High Revenue</text>
<line x1="1237" y1="934.5" x2="2198" y2="934.5" stroke="#67a5cb" stroke-width="1" />
<line x1="1237" y1="881.5" x2="2198" y2="881.5" stroke="#67a5cb" stroke-width="1" />
<line x1="1237" y1="828.5" x2="2198" y2="828.5" stroke="#67a5cb" stroke-width="1" />
<line x1="1237" y1="775.5" x2="2198" y2="775.5" stroke="#67a5cb" stroke-width="1" />
<line x1="1237" y1="722.5" x2="2198" y2="722.5" stroke="#67a5cb" stroke-width="1" />
<line x1="1237" y1="669.5" x2="2198" y2="669.5" stroke="#67a5cb" stroke-width="1" />
<line x1="1429.5" y1="616" x2="1429.5" y2="993" stroke="#67a5cb" stroke-width="1" />
<line x1="1621.5" y1="616" x2="1621.5" y2="993" stroke="#67a5cb" stroke-width="1" />
<line x1="1813.5" y1="616" x2="1813.5" y2="993" stroke="#67a5cb" stroke-width="1" />
<line x1="2005.5" y1="616" x2="2005.5" y2="993" stroke="#67a5cb" stroke-width="1" />
<line x1="1237.5" y1="987" x2="1237.5" y2="993" stroke="#6f93a8" stroke-width="1" />
<line x1="2198.5" y1="987" x2="2198.5" y2="993" stroke="#6f93a8" stroke-width="1" />
<rect x="1237" y="616" width="961" height="371" fill="none" stroke="#4ca4d3" stroke-width="2"/>
<text x="1215.9" y="993.1" font-size="17" fill="#000" font-family="'DejaVu Sans', Verdana, sans-serif" font-weight="bold" text-anchor="end" stroke="#000" stroke-width="0.60">-</text>
<text x="1215.9" y="940.1" font-size="17" fill="#000" font-family="'DejaVu Sans', Verdana, sans-serif" font-weight="bold" text-anchor="end" textLength="33.3" lengthAdjust="spacingAndGlyphs" stroke="#000" stroke-width="0.60">200</text>
<text x="1215.9" y="887.1" font-size="17" fill="#000" font-family="'DejaVu Sans', Verdana, sans-serif" font-weight="bold" text-anchor="end" textLength="33.3" lengthAdjust="spacingAndGlyphs" stroke="#000" stroke-width="0.60">400</text>
<text x="1215.9" y="834.1" font-size="17" fill="#000" font-family="'DejaVu Sans', Verdana, sans-serif" font-weight="bold" text-anchor="end" textLength="33.3" lengthAdjust="spacingAndGlyphs" stroke="#000" stroke-width="0.60">600</text>
<text x="1215.9" y="781.1" font-size="17" fill="#000" font-family="'DejaVu Sans', Verdana, sans-serif" font-weight="bold" text-anchor="end" textLength="33.3" lengthAdjust="spacingAndGlyphs" stroke="#000" stroke-width="0.60">800</text>
<text x="1215.9" y="728.1" font-size="17" fill="#000" font-family="'DejaVu Sans', Verdana, sans-serif" font-weight="bold" text-anchor="end" textLength="49.4" lengthAdjust="spacingAndGlyphs" stroke="#000" stroke-width="0.60">1,000</text>
<text x="1215.9" y="675.1" font-size="17" fill="#000" font-family="'DejaVu Sans', Verdana, sans-serif" font-weight="bold" text-anchor="end" textLength="49.4" lengthAdjust="spacingAndGlyphs" stroke="#000" stroke-width="0.60">1,200</text>
<text x="1215.9" y="622.1" font-size="17" fill="#000" font-family="'DejaVu Sans', Verdana, sans-serif" font-weight="bold" text-anchor="end" textLength="49.4" lengthAdjust="spacingAndGlyphs" stroke="#000" stroke-width="0.60">1,400</text>
<text x="1334.6" y="1036.0" font-size="17" fill="#000" font-family="'DejaVu Sans', Verdana, sans-serif" font-weight="bold" text-anchor="middle" textLength="44.3" lengthAdjust="spacingAndGlyphs" stroke="#000" stroke-width="0.60">2026</text>
<text x="1526.8" y="1036.0" font-size="17" fill="#000" font-family="'DejaVu Sans', Verdana, sans-serif" font-weight="bold" text-anchor="middle" textLength="44.3" lengthAdjust="spacingAndGlyphs" stroke="#000" stroke-width="0.60">2027</text>
<text x="1719.0" y="1036.0" font-size="17" fill="#000" font-family="'DejaVu Sans', Verdana, sans-serif" font-weight="bold" text-anchor="middle" textLength="44.3" lengthAdjust="spacingAndGlyphs" stroke="#000" stroke-width="0.60">2028</text>
<text x="1911.2" y="1036.0" font-size="17" fill="#000" font-family="'DejaVu Sans', Verdana, sans-serif" font-weight="bold" text-anchor="middle" textLength="44.3" lengthAdjust="spacingAndGlyphs" stroke="#000" stroke-width="0.60">2029</text>
<text x="2103.4" y="1036.0" font-size="17" fill="#000" font-family="'DejaVu Sans', Verdana, sans-serif" font-weight="bold" text-anchor="middle" textLength="44.3" lengthAdjust="spacingAndGlyphs" stroke="#000" stroke-width="0.60">2030</text>
<path d="M1332.6 940.4 L1524.8 906.2 L1717.0 863.6 L1909.2 798.0 L2101.4 715.4" fill="none" stroke="#ea7366" stroke-width="3.2" stroke-linejoin="round"/>
<path d="M1332.6 935.1 L1524.8 896.4 L1717.0 849.8 L1909.2 776.5 L2101.4 685.0" fill="none" stroke="#45aee6" stroke-width="3.2" stroke-linejoin="round"/>
<path d="M1332.6 928.4 L1524.8 886.4 L1717.0 834.5 L1909.2 755.1 L2101.4 653.0" fill="none" stroke="#2bb3a3" stroke-width="3.2" stroke-linejoin="round"/>
<path d="M1332.6 934.2 L1339.1 946.6 L1326.1 946.6 Z" fill="#ea7366"/>
<path d="M1524.8 900.0 L1531.3 912.4 L1518.3 912.4 Z" fill="#ea7366"/>
<path d="M1717.0 857.4 L1723.5 869.8 L1710.5 869.8 Z" fill="#ea7366"/>
<path d="M1909.2 791.8 L1915.7 804.2 L1902.7 804.2 Z" fill="#ea7366"/>
<path d="M2101.4 709.2 L2107.9 721.6 L2094.9 721.6 Z" fill="#ea7366"/>
<path d="M1332.6 928.8 L1338.9 935.1 L1332.6 941.4 L1326.3 935.1 Z" fill="#45aee6"/>
<path d="M1524.8 890.1 L1531.1 896.4 L1524.8 902.7 L1518.5 896.4 Z" fill="#45aee6"/>
<path d="M1717.0 843.5 L1723.3 849.8 L1717.0 856.1 L1710.7 849.8 Z" fill="#45aee6"/>
<path d="M1909.2 770.2 L1915.5 776.5 L1909.2 782.8 L1902.9 776.5 Z" fill="#45aee6"/>
<path d="M2101.4 678.7 L2107.7 685.0 L2101.4 691.3 L2095.1 685.0 Z" fill="#45aee6"/>
<rect x="1326.4" y="922.2" width="12.4" height="12.4" fill="#2bb3a3"/>
<rect x="1518.6" y="880.2" width="12.4" height="12.4" fill="#2bb3a3"/>
<rect x="1710.8" y="828.3" width="12.4" height="12.4" fill="#2bb3a3"/>
<rect x="1903.0" y="748.9" width="12.4" height="12.4" fill="#2bb3a3"/>
<rect x="2095.2" y="646.8" width="12.4" height="12.4" fill="#2bb3a3"/>
<rect x="70" y="1046.5" width="1044" height="34.3" fill="#4b52cf"/>
<text x="154.2" y="1073.5" font-size="26" fill="#ffffff" font-family="'DejaVu Sans', Verdana, sans-serif" font-weight="bold" textLength="876.3" lengthAdjust="spacingAndGlyphs" stroke="#ffffff" stroke-width="0.91">Contribution Margin Scenarios ($'000) - 5 years to December 2030</text>
<line x1="131.6" y1="1117.3" x2="175.9" y2="1117.3" stroke="#ea7366" stroke-width="3.2" />
<path d="M153.8 1112.8 L158.4 1121.8 L149.1 1121.8 Z" fill="#ea7366"/>
<text x="179.0" y="1123.0" font-size="16.6" fill="#000" font-family="'DejaVu Sans', Verdana, sans-serif" font-weight="bold" textLength="218.4" lengthAdjust="spacingAndGlyphs" stroke="#000" stroke-width="0.58">Low Contribution Margin</text>
<line x1="456" y1="1117.3" x2="501.6" y2="1117.3" stroke="#45aee6" stroke-width="3.2" />
<path d="M478.8 1112.8 L483.3 1117.3 L478.8 1121.8 L474.3 1117.3 Z" fill="#45aee6"/>
<text x="504.6" y="1123.0" font-size="16.6" fill="#000" font-family="'DejaVu Sans', Verdana, sans-serif" font-weight="bold" textLength="224.9" lengthAdjust="spacingAndGlyphs" stroke="#000" stroke-width="0.58">Base Contribution Margin</text>
<line x1="788" y1="1117.3" x2="833" y2="1117.3" stroke="#2bb3a3" stroke-width="3.2" />
<rect x="806.0" y="1112.8" width="8.9" height="8.9" fill="#2bb3a3"/>
<text x="836.0" y="1123.0" font-size="16.6" fill="#000" font-family="'DejaVu Sans', Verdana, sans-serif" font-weight="bold" textLength="223.6" lengthAdjust="spacingAndGlyphs" stroke="#000" stroke-width="0.58">High Contribution Margin</text>
<line x1="150" y1="1499.5" x2="1103" y2="1499.5" stroke="#67a5cb" stroke-width="1" />
<line x1="150" y1="1432.5" x2="1103" y2="1432.5" stroke="#67a5cb" stroke-width="1" />
<line x1="150" y1="1365.5" x2="1103" y2="1365.5" stroke="#67a5cb" stroke-width="1" />
<line x1="150" y1="1297.5" x2="1103" y2="1297.5" stroke="#67a5cb" stroke-width="1" />
<line x1="150" y1="1230.5" x2="1103" y2="1230.5" stroke="#67a5cb" stroke-width="1" />
<line x1="340.5" y1="1163" x2="340.5" y2="1573" stroke="#67a5cb" stroke-width="1" />
<line x1="531.5" y1="1163" x2="531.5" y2="1573" stroke="#67a5cb" stroke-width="1" />
<line x1="721.5" y1="1163" x2="721.5" y2="1573" stroke="#67a5cb" stroke-width="1" />
<line x1="912.5" y1="1163" x2="912.5" y2="1573" stroke="#67a5cb" stroke-width="1" />
<line x1="150.5" y1="1567" x2="150.5" y2="1573" stroke="#6f93a8" stroke-width="1" />
<line x1="1103.5" y1="1567" x2="1103.5" y2="1573" stroke="#6f93a8" stroke-width="1" />
<rect x="150" y="1163" width="953" height="404" fill="none" stroke="#4ca4d3" stroke-width="2"/>
<text x="128.2" y="1573.1" font-size="17" fill="#000" font-family="'DejaVu Sans', Verdana, sans-serif" font-weight="bold" text-anchor="end" stroke="#000" stroke-width="0.60">-</text>
<text x="128.2" y="1505.8" font-size="17" fill="#000" font-family="'DejaVu Sans', Verdana, sans-serif" font-weight="bold" text-anchor="end" textLength="33.3" lengthAdjust="spacingAndGlyphs" stroke="#000" stroke-width="0.60">200</text>
<text x="128.2" y="1438.4" font-size="17" fill="#000" font-family="'DejaVu Sans', Verdana, sans-serif" font-weight="bold" text-anchor="end" textLength="33.3" lengthAdjust="spacingAndGlyphs" stroke="#000" stroke-width="0.60">400</text>
<text x="128.2" y="1371.1" font-size="17" fill="#000" font-family="'DejaVu Sans', Verdana, sans-serif" font-weight="bold" text-anchor="end" textLength="33.3" lengthAdjust="spacingAndGlyphs" stroke="#000" stroke-width="0.60">600</text>
<text x="128.2" y="1303.8" font-size="17" fill="#000" font-family="'DejaVu Sans', Verdana, sans-serif" font-weight="bold" text-anchor="end" textLength="33.3" lengthAdjust="spacingAndGlyphs" stroke="#000" stroke-width="0.60">800</text>
<text x="128.2" y="1236.4" font-size="17" fill="#000" font-family="'DejaVu Sans', Verdana, sans-serif" font-weight="bold" text-anchor="end" textLength="49.4" lengthAdjust="spacingAndGlyphs" stroke="#000" stroke-width="0.60">1,000</text>
<text x="128.2" y="1169.1" font-size="17" fill="#000" font-family="'DejaVu Sans', Verdana, sans-serif" font-weight="bold" text-anchor="end" textLength="49.4" lengthAdjust="spacingAndGlyphs" stroke="#000" stroke-width="0.60">1,200</text>
<text x="246.8" y="1616.0" font-size="17" fill="#000" font-family="'DejaVu Sans', Verdana, sans-serif" font-weight="bold" text-anchor="middle" textLength="44.3" lengthAdjust="spacingAndGlyphs" stroke="#000" stroke-width="0.60">2026</text>
<text x="437.4" y="1616.0" font-size="17" fill="#000" font-family="'DejaVu Sans', Verdana, sans-serif" font-weight="bold" text-anchor="middle" textLength="44.3" lengthAdjust="spacingAndGlyphs" stroke="#000" stroke-width="0.60">2027</text>
<text x="628.0" y="1616.0" font-size="17" fill="#000" font-family="'DejaVu Sans', Verdana, sans-serif" font-weight="bold" text-anchor="middle" textLength="44.3" lengthAdjust="spacingAndGlyphs" stroke="#000" stroke-width="0.60">2028</text>
<text x="818.6" y="1616.0" font-size="17" fill="#000" font-family="'DejaVu Sans', Verdana, sans-serif" font-weight="bold" text-anchor="middle" textLength="44.3" lengthAdjust="spacingAndGlyphs" stroke="#000" stroke-width="0.60">2029</text>
<text x="1009.2" y="1616.0" font-size="17" fill="#000" font-family="'DejaVu Sans', Verdana, sans-serif" font-weight="bold" text-anchor="middle" textLength="44.3" lengthAdjust="spacingAndGlyphs" stroke="#000" stroke-width="0.60">2030</text>
<path d="M244.8 1517.9 L435.4 1482.6 L626.0 1437.1 L816.6 1366.5 L1007.2 1274.6" fill="none" stroke="#ea7366" stroke-width="3.2" stroke-linejoin="round"/>
<path d="M244.8 1511.2 L435.4 1469.8 L626.0 1417.3 L816.6 1336.5 L1007.2 1230.9" fill="none" stroke="#45aee6" stroke-width="3.2" stroke-linejoin="round"/>
<path d="M244.8 1502.4 L435.4 1455.7 L626.0 1396.4 L816.6 1303.9 L1007.2 1187.5" fill="none" stroke="#2bb3a3" stroke-width="3.2" stroke-linejoin="round"/>
<path d="M244.8 1511.7 L251.3 1524.1 L238.3 1524.1 Z" fill="#ea7366"/>
<path d="M435.4 1476.4 L441.9 1488.8 L428.9 1488.8 Z" fill="#ea7366"/>
<path d="M626.0 1430.9 L632.5 1443.3 L619.5 1443.3 Z" fill="#ea7366"/>
<path d="M816.6 1360.3 L823.1 1372.7 L810.1 1372.7 Z" fill="#ea7366"/>
<path d="M1007.2 1268.4 L1013.7 1280.8 L1000.7 1280.8 Z" fill="#ea7366"/>
<path d="M244.8 1504.9 L251.1 1511.2 L244.8 1517.5 L238.5 1511.2 Z" fill="#45aee6"/>
<path d="M435.4 1463.5 L441.7 1469.8 L435.4 1476.1 L429.1 1469.8 Z" fill="#45aee6"/>
<path d="M626.0 1411.0 L632.3 1417.3 L626.0 1423.6 L619.7 1417.3 Z" fill="#45aee6"/>
<path d="M816.6 1330.2 L822.9 1336.5 L816.6 1342.8 L810.3 1336.5 Z" fill="#45aee6"/>
<path d="M1007.2 1224.6 L1013.5 1230.9 L1007.2 1237.2 L1000.9 1230.9 Z" fill="#45aee6"/>
<rect x="238.6" y="1496.2" width="12.4" height="12.4" fill="#2bb3a3"/>
<rect x="429.2" y="1449.5" width="12.4" height="12.4" fill="#2bb3a3"/>
<rect x="619.8" y="1390.2" width="12.4" height="12.4" fill="#2bb3a3"/>
<rect x="810.4" y="1297.7" width="12.4" height="12.4" fill="#2bb3a3"/>
<rect x="1001.0" y="1181.3" width="12.4" height="12.4" fill="#2bb3a3"/>
<rect x="1157" y="1046.7" width="1058.9" height="33.9" fill="#4b52cf"/>
<text x="1331.0" y="1073.5" font-size="26" fill="#ffffff" font-family="'DejaVu Sans', Verdana, sans-serif" font-weight="bold" textLength="711.7" lengthAdjust="spacingAndGlyphs" stroke="#ffffff" stroke-width="0.91">EBITDA Scenarios ($'000) - 5 years to December 2030</text>
<line x1="1306.5" y1="1117.7" x2="1349.8" y2="1117.7" stroke="#ea7366" stroke-width="3.2" />
<path d="M1328.2 1113.2 L1332.8 1122.2 L1323.5 1122.2 Z" fill="#ea7366"/>
<text x="1354.3" y="1123.4" font-size="16.6" fill="#000" font-family="'DejaVu Sans', Verdana, sans-serif" font-weight="bold" textLength="108.0" lengthAdjust="spacingAndGlyphs" stroke="#000" stroke-width="0.58">Low EBITDA</text>
<line x1="1603" y1="1117.7" x2="1645.8" y2="1117.7" stroke="#45aee6" stroke-width="3.2" />
<path d="M1624.4 1113.2 L1628.9 1117.7 L1624.4 1122.2 L1619.9 1117.7 Z" fill="#45aee6"/>
<text x="1650.3" y="1123.4" font-size="16.6" fill="#000" font-family="'DejaVu Sans', Verdana, sans-serif" font-weight="bold" textLength="113.8" lengthAdjust="spacingAndGlyphs" stroke="#000" stroke-width="0.58">Base EBITDA</text>
<line x1="1903.4" y1="1117.7" x2="1947.1" y2="1117.7" stroke="#2bb3a3" stroke-width="3.2" />
<rect x="1920.8" y="1113.2" width="8.9" height="8.9" fill="#2bb3a3"/>
<text x="1951.0" y="1123.4" font-size="16.6" fill="#000" font-family="'DejaVu Sans', Verdana, sans-serif" font-weight="bold" textLength="114.0" lengthAdjust="spacingAndGlyphs" stroke="#000" stroke-width="0.58">High EBITDA</text>
<line x1="1237" y1="1526.5" x2="2198" y2="1526.5" stroke="#67a5cb" stroke-width="1" />
<line x1="1237" y1="1486.5" x2="2198" y2="1486.5" stroke="#67a5cb" stroke-width="1" />
<line x1="1237" y1="1445.5" x2="2198" y2="1445.5" stroke="#67a5cb" stroke-width="1" />
<line x1="1237" y1="1405.5" x2="2198" y2="1405.5" stroke="#67a5cb" stroke-width="1" />
<line x1="1237" y1="1365.5" x2="2198" y2="1365.5" stroke="#67a5cb" stroke-width="1" />
<line x1="1237" y1="1324.5" x2="2198" y2="1324.5" stroke="#67a5cb" stroke-width="1" />
<line x1="1237" y1="1284.5" x2="2198" y2="1284.5" stroke="#67a5cb" stroke-width="1" />
<line x1="1237" y1="1243.5" x2="2198" y2="1243.5" stroke="#67a5cb" stroke-width="1" />
<line x1="1237" y1="1203.5" x2="2198" y2="1203.5" stroke="#67a5cb" stroke-width="1" />
<line x1="1429.5" y1="1163" x2="1429.5" y2="1573" stroke="#67a5cb" stroke-width="1" />
<line x1="1621.5" y1="1163" x2="1621.5" y2="1573" stroke="#67a5cb" stroke-width="1" />
<line x1="1813.5" y1="1163" x2="1813.5" y2="1573" stroke="#67a5cb" stroke-width="1" />
<line x1="2005.5" y1="1163" x2="2005.5" y2="1573" stroke="#67a5cb" stroke-width="1" />
<line x1="1237.5" y1="1567" x2="1237.5" y2="1573" stroke="#6f93a8" stroke-width="1" />
<line x1="2198.5" y1="1567" x2="2198.5" y2="1573" stroke="#6f93a8" stroke-width="1" />
<rect x="1237" y="1163" width="961" height="404" fill="none" stroke="#4ca4d3" stroke-width="2"/>
<text x="1215.0" y="1573.1" font-size="17" fill="#000" font-family="'DejaVu Sans', Verdana, sans-serif" font-weight="bold" text-anchor="end" stroke="#000" stroke-width="0.60">-</text>
<text x="1215.0" y="1532.7" font-size="17" fill="#000" font-family="'DejaVu Sans', Verdana, sans-serif" font-weight="bold" text-anchor="end" textLength="33.3" lengthAdjust="spacingAndGlyphs" stroke="#000" stroke-width="0.60">100</text>
<text x="1215.0" y="1492.3" font-size="17" fill="#000" font-family="'DejaVu Sans', Verdana, sans-serif" font-weight="bold" text-anchor="end" textLength="33.3" lengthAdjust="spacingAndGlyphs" stroke="#000" stroke-width="0.60">200</text>
<text x="1215.0" y="1451.9" font-size="17" fill="#000" font-family="'DejaVu Sans', Verdana, sans-serif" font-weight="bold" text-anchor="end" textLength="33.3" lengthAdjust="spacingAndGlyphs" stroke="#000" stroke-width="0.60">300</text>
<text x="1215.0" y="1411.5" font-size="17" fill="#000" font-family="'DejaVu Sans', Verdana, sans-serif" font-weight="bold" text-anchor="end" textLength="33.3" lengthAdjust="spacingAndGlyphs" stroke="#000" stroke-width="0.60">400</text>
<text x="1215.0" y="1371.1" font-size="17" fill="#000" font-family="'DejaVu Sans', Verdana, sans-serif" font-weight="bold" text-anchor="end" textLength="33.3" lengthAdjust="spacingAndGlyphs" stroke="#000" stroke-width="0.60">500</text>
<text x="1215.0" y="1330.7" font-size="17" fill="#000" font-family="'DejaVu Sans', Verdana, sans-serif" font-weight="bold" text-anchor="end" textLength="33.3" lengthAdjust="spacingAndGlyphs" stroke="#000" stroke-width="0.60">600</text>
<text x="1215.0" y="1290.3" font-size="17" fill="#000" font-family="'DejaVu Sans', Verdana, sans-serif" font-weight="bold" text-anchor="end" textLength="33.3" lengthAdjust="spacingAndGlyphs" stroke="#000" stroke-width="0.60">700</text>
<text x="1215.0" y="1249.9" font-size="17" fill="#000" font-family="'DejaVu Sans', Verdana, sans-serif" font-weight="bold" text-anchor="end" textLength="33.3" lengthAdjust="spacingAndGlyphs" stroke="#000" stroke-width="0.60">800</text>
<text x="1215.0" y="1209.5" font-size="17" fill="#000" font-family="'DejaVu Sans', Verdana, sans-serif" font-weight="bold" text-anchor="end" textLength="33.3" lengthAdjust="spacingAndGlyphs" stroke="#000" stroke-width="0.60">900</text>
<text x="1215.0" y="1169.1" font-size="17" fill="#000" font-family="'DejaVu Sans', Verdana, sans-serif" font-weight="bold" text-anchor="end" textLength="49.4" lengthAdjust="spacingAndGlyphs" stroke="#000" stroke-width="0.60">1,000</text>
<text x="1334.6" y="1616.0" font-size="17" fill="#000" font-family="'DejaVu Sans', Verdana, sans-serif" font-weight="bold" text-anchor="middle" textLength="44.3" lengthAdjust="spacingAndGlyphs" stroke="#000" stroke-width="0.60">2026</text>
<text x="1526.8" y="1616.0" font-size="17" fill="#000" font-family="'DejaVu Sans', Verdana, sans-serif" font-weight="bold" text-anchor="middle" textLength="44.3" lengthAdjust="spacingAndGlyphs" stroke="#000" stroke-width="0.60">2027</text>
<text x="1719.0" y="1616.0" font-size="17" fill="#000" font-family="'DejaVu Sans', Verdana, sans-serif" font-weight="bold" text-anchor="middle" textLength="44.3" lengthAdjust="spacingAndGlyphs" stroke="#000" stroke-width="0.60">2028</text>
<text x="1911.2" y="1616.0" font-size="17" fill="#000" font-family="'DejaVu Sans', Verdana, sans-serif" font-weight="bold" text-anchor="middle" textLength="44.3" lengthAdjust="spacingAndGlyphs" stroke="#000" stroke-width="0.60">2029</text>
<text x="2103.4" y="1616.0" font-size="17" fill="#000" font-family="'DejaVu Sans', Verdana, sans-serif" font-weight="bold" text-anchor="middle" textLength="44.3" lengthAdjust="spacingAndGlyphs" stroke="#000" stroke-width="0.60">2030</text>
<path d="M1332.6 1553.5 L1524.8 1532.5 L1717.0 1516.3 L1909.2 1458.5 L2101.4 1358.7" fill="none" stroke="#ea7366" stroke-width="3.2" stroke-linejoin="round"/>
<path d="M1332.6 1535.3 L1524.8 1503.8 L1717.0 1471.9 L1909.2 1396.3 L2101.4 1279.6" fill="none" stroke="#45aee6" stroke-width="3.2" stroke-linejoin="round"/>
<path d="M1332.6 1518.7 L1524.8 1476.3 L1717.0 1430.7 L1909.2 1337.3 L2101.4 1203.6" fill="none" stroke="#2bb3a3" stroke-width="3.2" stroke-linejoin="round"/>
<path d="M1332.6 1547.3 L1339.1 1559.7 L1326.1 1559.7 Z" fill="#ea7366"/>
<path d="M1524.8 1526.3 L1531.3 1538.7 L1518.3 1538.7 Z" fill="#ea7366"/>
<path d="M1717.0 1510.1 L1723.5 1522.5 L1710.5 1522.5 Z" fill="#ea7366"/>
<path d="M1909.2 1452.3 L1915.7 1464.7 L1902.7 1464.7 Z" fill="#ea7366"/>
<path d="M2101.4 1352.5 L2107.9 1364.9 L2094.9 1364.9 Z" fill="#ea7366"/>
<path d="M1332.6 1529.0 L1338.9 1535.3 L1332.6 1541.6 L1326.3 1535.3 Z" fill="#45aee6"/>
<path d="M1524.8 1497.5 L1531.1 1503.8 L1524.8 1510.1 L1518.5 1503.8 Z" fill="#45aee6"/>
<path d="M1717.0 1465.6 L1723.3 1471.9 L1717.0 1478.2 L1710.7 1471.9 Z" fill="#45aee6"/>
<path d="M1909.2 1390.0 L1915.5 1396.3 L1909.2 1402.6 L1902.9 1396.3 Z" fill="#45aee6"/>
<path d="M2101.4 1273.3 L2107.7 1279.6 L2101.4 1285.9 L2095.1 1279.6 Z" fill="#45aee6"/>
<rect x="1326.4" y="1512.5" width="12.4" height="12.4" fill="#2bb3a3"/>
<rect x="1518.6" y="1470.1" width="12.4" height="12.4" fill="#2bb3a3"/>
<rect x="1710.8" y="1424.5" width="12.4" height="12.4" fill="#2bb3a3"/>
<rect x="1903.0" y="1331.1" width="12.4" height="12.4" fill="#2bb3a3"/>
<rect x="2095.2" y="1197.4" width="12.4" height="12.4" fill="#2bb3a3"/>
<rect x="2860.3" y="278" width="30.7" height="1392" fill="#0a0a0a"/>
<rect x="2862.5" y="279" width="26.5" height="1410" fill="#161616" rx="12"/>
<path d="M2869 296 L2883 296 L2876 286 Z" fill="#9a9a9a" stroke="#9a9a9a" stroke-width="1.5" stroke-linejoin="round"/>
<rect x="2870" y="304" width="12.1" height="1239" fill="#9a9a9a" rx="6"/>
<circle cx="2876" cy="1659" r="12" fill="#1b1b1b"/>
<path d="M2869.2 1654.1 L2882.9 1654.1 L2876 1663.9 Z" fill="#9a9a9a" stroke="#9a9a9a" stroke-width="1.5" stroke-linejoin="round"/>
<rect x="11" y="1670" width="2880" height="47.5" fill="#0a0a0a"/>
<defs><linearGradient id="tabg" x1="0" y1="0" x2="0" y2="1"><stop offset="0" stop-color="#ffffff"/><stop offset="0.35" stop-color="#f6fafd"/><stop offset="1" stop-color="#c9e3f4"/></linearGradient></defs>
<path d="M1340.9 1670 Q1347.9 1670 1347.9 1677 L1347.9 1706.6 Q1347.9 1711.6 1352.9 1711.6 L1457.8 1711.6 Q1462.8 1711.6 1462.8 1706.6 L1462.8 1677 Q1462.8 1670 1469.8 1670 Z" fill="url(#tabg)"/>
<text x="1360.5" y="1697.7" font-size="21" fill="#1b2228" textLength="89.6" lengthAdjust="spacingAndGlyphs">Scenarios</text>
<rect x="1360" y="1705.1" width="90.9" height="2.9" fill="#1e7b45"/>
<path d="M54.5 1687 L47 1693.5 L54.5 1700" fill="none" stroke="#cfcfcf" stroke-width="1.4"/>
<path d="M95.5 1687 L103 1693.5 L95.5 1700" fill="none" stroke="#cfcfcf" stroke-width="1.4"/>
<text x="190.6" y="1702.9" font-size="21" fill="#ffffff" textLength="82.0" lengthAdjust="spacingAndGlyphs">Contents</text>
<line x1="292.7" y1="1680" x2="292.7" y2="1707.8" stroke="#858585" stroke-width="1.1" />
<line x1="433.4" y1="1680" x2="433.4" y2="1707.8" stroke="#858585" stroke-width="1.1" />
<line x1="552" y1="1680" x2="552" y2="1707.8" stroke="#858585" stroke-width="1.1" />
<line x1="644.5" y1="1680" x2="644.5" y2="1707.8" stroke="#858585" stroke-width="1.1" />
<line x1="733" y1="1680" x2="733" y2="1707.8" stroke="#858585" stroke-width="1.1" />
<line x1="835.4" y1="1680" x2="835.4" y2="1707.8" stroke="#858585" stroke-width="1.1" />
<line x1="935.4" y1="1680" x2="935.4" y2="1707.8" stroke="#858585" stroke-width="1.1" />
<line x1="1061.4" y1="1680" x2="1061.4" y2="1707.8" stroke="#858585" stroke-width="1.1" />
<line x1="1164.3" y1="1680" x2="1164.3" y2="1707.8" stroke="#858585" stroke-width="1.1" />
<line x1="1219.5" y1="1680" x2="1219.5" y2="1707.8" stroke="#858585" stroke-width="1.1" />
<line x1="1280.5" y1="1680" x2="1280.5" y2="1707.8" stroke="#858585" stroke-width="1.1" />
<line x1="1341" y1="1680" x2="1341" y2="1707.8" stroke="#858585" stroke-width="1.1" />
<line x1="1469.5" y1="1680" x2="1469.5" y2="1707.8" stroke="#858585" stroke-width="1.1" />
<line x1="1597.7" y1="1680" x2="1597.7" y2="1707.8" stroke="#858585" stroke-width="1.1" />
<line x1="1724.4" y1="1680" x2="1724.4" y2="1707.8" stroke="#858585" stroke-width="1.1" />
<line x1="1785.4" y1="1680" x2="1785.4" y2="1707.8" stroke="#858585" stroke-width="1.1" />
<line x1="1870.5" y1="1680" x2="1870.5" y2="1707.8" stroke="#858585" stroke-width="1.1" />
<line x1="1968.5" y1="1680" x2="1968.5" y2="1707.8" stroke="#858585" stroke-width="1.1" />
<line x1="2045.8" y1="1680" x2="2045.8" y2="1707.8" stroke="#858585" stroke-width="1.1" />
<rect x="298.7" y="1675.8" width="128.2" height="36.2" fill="#fcee6e" rx="6"/>
<text x="314.5" y="1703.0" font-size="21" fill="#141414" textLength="98.5" lengthAdjust="spacingAndGlyphs">Dashboard</text>
<rect x="440" y="1675.8" width="106" height="36.2" fill="#fcee6e" rx="6"/>
<text x="454.5" y="1703.0" font-size="21" fill="#141414" textLength="78.3" lengthAdjust="spacingAndGlyphs">Revenue</text>
<rect x="559" y="1675.8" width="79" height="36.2" fill="#fcee6e" rx="6"/>
<text x="570.8" y="1703.0" font-size="21" fill="#141414" textLength="54.2" lengthAdjust="spacingAndGlyphs">COGS</text>
<rect x="651" y="1675.8" width="75.6" height="36.2" fill="#fcee6e" rx="6"/>
<text x="664.0" y="1703.0" font-size="21" fill="#141414" textLength="50.3" lengthAdjust="spacingAndGlyphs">OPEX</text>
<rect x="740" y="1675.8" width="88.9" height="36.2" fill="#fcee6e" rx="6"/>
<text x="753.6" y="1703.0" font-size="21" fill="#141414" textLength="61.7" lengthAdjust="spacingAndGlyphs">Payroll</text>
<rect x="841.9" y="1675.8" width="87.0" height="36.2" fill="#fcee6e" rx="6"/>
<text x="855.2" y="1703.0" font-size="21" fill="#141414" textLength="60.8" lengthAdjust="spacingAndGlyphs">CAPEX</text>
<rect x="941.9" y="1675.8" width="113.0" height="36.2" fill="#fcee6e" rx="6"/>
<text x="955.5" y="1703.0" font-size="21" fill="#141414" textLength="85.4" lengthAdjust="spacingAndGlyphs">CapTable</text>
<rect x="1067.9" y="1675.8" width="89.9" height="36.2" fill="#fcee6e" rx="6"/>
<text x="1081.5" y="1703.0" font-size="21" fill="#141414" textLength="62.5" lengthAdjust="spacingAndGlyphs">Capital</text>
<rect x="1170.8" y="1675.8" width="42.0" height="36.2" fill="#4cb2e8" rx="6"/>
<text x="1184.4" y="1703.0" font-size="21" fill="#141414" textLength="15.6" lengthAdjust="spacingAndGlyphs">IS</text>
<rect x="1226" y="1675.8" width="48" height="36.2" fill="#4cb2e8" rx="6"/>
<text x="1239.0" y="1703.0" font-size="21" fill="#141414" textLength="22.7" lengthAdjust="spacingAndGlyphs">CF</text>
<rect x="1287" y="1675.8" width="47.7" height="36.2" fill="#4cb2e8" rx="6"/>
<text x="1300.6" y="1703.0" font-size="21" fill="#141414" textLength="22.1" lengthAdjust="spacingAndGlyphs">BS</text>
<rect x="1476" y="1675.8" width="114.6" height="36.2" fill="#4cb2e8" rx="6"/>
<text x="1489.6" y="1703.0" font-size="21" fill="#141414" textLength="86.4" lengthAdjust="spacingAndGlyphs">Valuation</text>
<rect x="1604.2" y="1675.8" width="113.7" height="36.2" fill="#4cb2e8" rx="6"/>
<text x="1618.2" y="1703.0" font-size="21" fill="#141414" textLength="86.7" lengthAdjust="spacingAndGlyphs">Summary</text>
<rect x="1731.2" y="1675.8" width="47.4" height="36.2" fill="#4cb2e8" rx="6"/>
<text x="1744.5" y="1703.0" font-size="21" fill="#141414" textLength="21.4" lengthAdjust="spacingAndGlyphs">BE</text>
<rect x="1791.9" y="1675.8" width="72.1" height="36.2" fill="#4cb2e8" rx="6"/>
<text x="1805.5" y="1703.0" font-size="21" fill="#141414" textLength="46.1" lengthAdjust="spacingAndGlyphs">ROIC</text>
<rect x="1877" y="1675.8" width="85" height="36.2" fill="#4cb2e8" rx="6"/>
<text x="1890.0" y="1703.0" font-size="21" fill="#141414" textLength="58.4" lengthAdjust="spacingAndGlyphs">Charts</text>
<rect x="1975" y="1675.8" width="63.6" height="36.2" fill="#4cb2e8" rx="6"/>
<text x="1988.3" y="1703.0" font-size="21" fill="#141414" textLength="37.3" lengthAdjust="spacingAndGlyphs">KPIs</text>
<clipPath id="lastc"><rect x="2052" y="1670" width="19.8" height="45"/></clipPath>
<g clip-path="url(#lastc)">
<rect x="2052.3" y="1675.8" width="40" height="36.2" fill="#4cb2e8" rx="6"/>
<text x="2063.6" y="1703.0" font-size="21" fill="#141414">S</text>
</g>
<circle cx="2088.5" cy="1692.6" r="2.3" fill="#e8e8e8"/>
<circle cx="2095.0" cy="1692.6" r="2.3" fill="#e8e8e8"/>
<circle cx="2101.5" cy="1692.6" r="2.3" fill="#e8e8e8"/>
<line x1="2134.4" y1="1692.8" x2="2152" y2="1692.8" stroke="#e8e8e8" stroke-width="1.6" />
<line x1="2143.2" y1="1684" x2="2143.2" y2="1701.6" stroke="#e8e8e8" stroke-width="1.6" />
<circle cx="2191.9" cy="1687" r="1.8" fill="#e8e8e8"/>
<circle cx="2191.9" cy="1693" r="1.8" fill="#e8e8e8"/>
<circle cx="2191.9" cy="1699" r="1.8" fill="#e8e8e8"/>
<rect x="2215.7" y="1680.5" width="644.7" height="25.6" fill="#161616" rx="12.8"/>
<path d="M2234.2 1686.2 L2234.2 1699.8 L2224.2 1693 Z" fill="#9a9a9a" stroke="#9a9a9a" stroke-width="1.5" stroke-linejoin="round"/>
<rect x="2242.2" y="1687" width="583.2" height="12" fill="#9a9a9a" rx="6"/>
<path d="M2842.5 1686.2 L2842.5 1699.8 L2852.4 1693 Z" fill="#9a9a9a" stroke="#9a9a9a" stroke-width="1.5" stroke-linejoin="round"/>
<rect x="11" y="1717.5" width="2880" height="33.2" fill="#161616"/>
<line x1="11" y1="1717.5" x2="2891" y2="1717.5" stroke="#2a2a2a" stroke-width="1" />
<text x="27.3" y="1740.8" font-size="16.5" fill="#e0e0e0" textLength="41.9" lengthAdjust="spacingAndGlyphs">Ready</text>
<rect x="99.5" y="1727" width="20" height="16.5" fill="none" stroke="#e0e0e0" stroke-width="1.4"/>
<line x1="99.5" y1="1731.5" x2="119.5" y2="1731.5" stroke="#e0e0e0" stroke-width="1.2" />
<line x1="102.5" y1="1735.5" x2="108" y2="1735.5" stroke="#e0e0e0" stroke-width="1.2" />
<line x1="102.5" y1="1739" x2="106.5" y2="1739" stroke="#e0e0e0" stroke-width="1.2" />
<circle cx="114.5" cy="1739.5" r="5" fill="#161616" stroke="#e0e0e0" stroke-width="1.4"/>
<circle cx="114.5" cy="1739.5" r="2" fill="#e0e0e0"/>
<circle cx="155.5" cy="1726.8" r="2.3" fill="none" stroke="#e8e8e8" stroke-width="1.4"/>
<path d="M147.3 1729 Q150 1733.2 155.5 1733.2 Q161 1733.2 163.8 1729 M155.5 1733.2 L155.5 1737.5 Q153 1741 151.5 1745 M155.5 1737.5 L158 1740.5" fill="none" stroke="#e8e8e8" stroke-width="1.5" stroke-linecap="round" stroke-linejoin="round"/>
<path d="M160 1739 L167 1746 M167 1739 L160 1746" fill="none" stroke="#e0e0e0" stroke-width="1.4"/>
<text x="173.7" y="1740.8" font-size="16.5" fill="#f0f0f0" font-weight="bold" textLength="186.7" lengthAdjust="spacingAndGlyphs">Accessibility: Investigate</text>
<rect x="2445" y="1717.5" width="59.8" height="33.2" fill="#282828"/>
<rect x="2465" y="1725.2" width="18" height="17.5" fill="none" stroke="#f0f0f0" stroke-width="1.6"/>
<line x1="2471" y1="1725.2" x2="2471" y2="1742.7" stroke="#f0f0f0" stroke-width="1.4" />
<line x1="2465" y1="1731.03" x2="2483" y2="1731.03" stroke="#f0f0f0" stroke-width="1.4" />
<line x1="2477" y1="1725.2" x2="2477" y2="1742.7" stroke="#f0f0f0" stroke-width="1.4" />
<line x1="2465" y1="1736.8600000000001" x2="2483" y2="1736.8600000000001" stroke="#f0f0f0" stroke-width="1.4" />
<rect x="2525" y="1725.2" width="20" height="17.5" fill="none" stroke="#f0f0f0" stroke-width="1.6"/>
<rect x="2529.5" y="1728.5" width="11" height="11" fill="none" stroke="#f0f0f0" stroke-width="1.3"/>
<line x1="2531.5" y1="1731.5" x2="2538.5" y2="1731.5" stroke="#f0f0f0" stroke-width="1" />
<line x1="2531.5" y1="1734.3" x2="2538.5" y2="1734.3" stroke="#f0f0f0" stroke-width="1" />
<line x1="2531.5" y1="1737.1" x2="2538.5" y2="1737.1" stroke="#f0f0f0" stroke-width="1" />
<rect x="2585" y="1725.2" width="20" height="17.5" fill="none" stroke="#f0f0f0" stroke-width="1.6"/>
<path d="M2589 1725.2 L2589 1734 L2597 1734 L2597 1725.2 M2593 1725.2 L2593 1734" fill="none" stroke="#f0f0f0" stroke-width="1.4"/>
<line x1="2633" y1="1734.5" x2="2644.4" y2="1734.5" stroke="#d0d0d0" stroke-width="1.4" />
<line x1="2653" y1="1734.5" x2="2800.6" y2="1734.5" stroke="#a8a8a8" stroke-width="1.6" />
<rect x="2726.2" y="1726.3" width="7.4" height="16.3" fill="#a8a8a8" rx="1"/>
<line x1="2809.7" y1="1734.5" x2="2820.5" y2="1734.5" stroke="#e0e0e0" stroke-width="1.4" />
<line x1="2815.1" y1="1729" x2="2815.1" y2="1740" stroke="#e0e0e0" stroke-width="1.4" />
<text x="2840.5" y="1740.6" font-size="16.5" fill="#f0f0f0" textLength="38.1" lengthAdjust="spacingAndGlyphs">110%</text>
</svg>
</body></html>
